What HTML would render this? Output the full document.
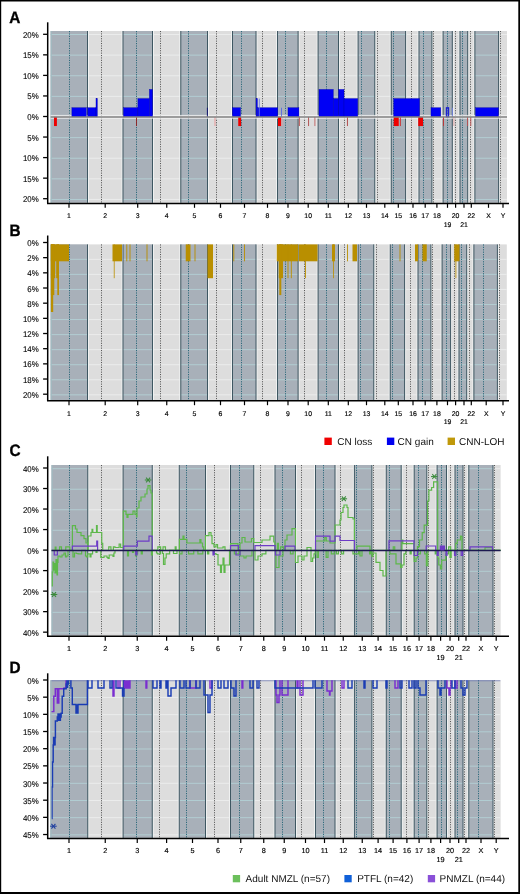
<!DOCTYPE html>
<html><head><meta charset="utf-8"><style>
html,body{margin:0;padding:0;background:#fff;}
body{width:520px;height:894px;overflow:hidden;font-family:"Liberation Sans", sans-serif;}
svg{display:block;will-change:transform;text-rendering:geometricPrecision;}
</style></head><body>
<svg width="520" height="894" viewBox="0 0 520 894" font-family='"Liberation Sans", sans-serif'>
<rect x="0" y="0" width="520" height="894" fill="#fff"/>
<text transform="translate(9.3,22.8) scale(0.93,1)" x="0" y="0" font-size="16.5" font-weight="bold" fill="#000" stroke="#000" stroke-width="0.35">A</text>
<rect x="50.6" y="31.0" width="456.40" height="171.80" fill="#dddddd"/>
<rect x="50.6" y="34.00" width="456.40" height="1.0" fill="#ebecec"/>
<rect x="50.6" y="54.62" width="456.40" height="1.0" fill="#ebecec"/>
<rect x="50.6" y="75.24" width="456.40" height="1.0" fill="#ebecec"/>
<rect x="50.6" y="95.86" width="456.40" height="1.0" fill="#ebecec"/>
<rect x="50.6" y="137.10" width="456.40" height="1.0" fill="#ebecec"/>
<rect x="50.6" y="157.72" width="456.40" height="1.0" fill="#ebecec"/>
<rect x="50.6" y="178.34" width="456.40" height="1.0" fill="#ebecec"/>
<rect x="50.6" y="198.96" width="456.40" height="1.0" fill="#ebecec"/>
<rect x="50.60" y="31.0" width="36.90" height="171.80" fill="#a8b0b9"/>
<rect x="50.60" y="34.00" width="36.90" height="1.0" fill="#b2cdd2"/>
<rect x="50.60" y="54.62" width="36.90" height="1.0" fill="#b2cdd2"/>
<rect x="50.60" y="75.24" width="36.90" height="1.0" fill="#b2cdd2"/>
<rect x="50.60" y="95.86" width="36.90" height="1.0" fill="#b2cdd2"/>
<rect x="50.60" y="137.10" width="36.90" height="1.0" fill="#b2cdd2"/>
<rect x="50.60" y="157.72" width="36.90" height="1.0" fill="#b2cdd2"/>
<rect x="50.60" y="178.34" width="36.90" height="1.0" fill="#b2cdd2"/>
<rect x="50.60" y="198.96" width="36.90" height="1.0" fill="#b2cdd2"/>
<rect x="123.00" y="31.0" width="29.50" height="171.80" fill="#a8b0b9"/>
<rect x="123.00" y="34.00" width="29.50" height="1.0" fill="#b2cdd2"/>
<rect x="123.00" y="54.62" width="29.50" height="1.0" fill="#b2cdd2"/>
<rect x="123.00" y="75.24" width="29.50" height="1.0" fill="#b2cdd2"/>
<rect x="123.00" y="95.86" width="29.50" height="1.0" fill="#b2cdd2"/>
<rect x="123.00" y="137.10" width="29.50" height="1.0" fill="#b2cdd2"/>
<rect x="123.00" y="157.72" width="29.50" height="1.0" fill="#b2cdd2"/>
<rect x="123.00" y="178.34" width="29.50" height="1.0" fill="#b2cdd2"/>
<rect x="123.00" y="198.96" width="29.50" height="1.0" fill="#b2cdd2"/>
<rect x="180.80" y="31.0" width="26.70" height="171.80" fill="#a8b0b9"/>
<rect x="180.80" y="34.00" width="26.70" height="1.0" fill="#b2cdd2"/>
<rect x="180.80" y="54.62" width="26.70" height="1.0" fill="#b2cdd2"/>
<rect x="180.80" y="75.24" width="26.70" height="1.0" fill="#b2cdd2"/>
<rect x="180.80" y="95.86" width="26.70" height="1.0" fill="#b2cdd2"/>
<rect x="180.80" y="137.10" width="26.70" height="1.0" fill="#b2cdd2"/>
<rect x="180.80" y="157.72" width="26.70" height="1.0" fill="#b2cdd2"/>
<rect x="180.80" y="178.34" width="26.70" height="1.0" fill="#b2cdd2"/>
<rect x="180.80" y="198.96" width="26.70" height="1.0" fill="#b2cdd2"/>
<rect x="232.50" y="31.0" width="23.50" height="171.80" fill="#a8b0b9"/>
<rect x="232.50" y="34.00" width="23.50" height="1.0" fill="#b2cdd2"/>
<rect x="232.50" y="54.62" width="23.50" height="1.0" fill="#b2cdd2"/>
<rect x="232.50" y="75.24" width="23.50" height="1.0" fill="#b2cdd2"/>
<rect x="232.50" y="95.86" width="23.50" height="1.0" fill="#b2cdd2"/>
<rect x="232.50" y="137.10" width="23.50" height="1.0" fill="#b2cdd2"/>
<rect x="232.50" y="157.72" width="23.50" height="1.0" fill="#b2cdd2"/>
<rect x="232.50" y="178.34" width="23.50" height="1.0" fill="#b2cdd2"/>
<rect x="232.50" y="198.96" width="23.50" height="1.0" fill="#b2cdd2"/>
<rect x="277.50" y="31.0" width="20.60" height="171.80" fill="#a8b0b9"/>
<rect x="277.50" y="34.00" width="20.60" height="1.0" fill="#b2cdd2"/>
<rect x="277.50" y="54.62" width="20.60" height="1.0" fill="#b2cdd2"/>
<rect x="277.50" y="75.24" width="20.60" height="1.0" fill="#b2cdd2"/>
<rect x="277.50" y="95.86" width="20.60" height="1.0" fill="#b2cdd2"/>
<rect x="277.50" y="137.10" width="20.60" height="1.0" fill="#b2cdd2"/>
<rect x="277.50" y="157.72" width="20.60" height="1.0" fill="#b2cdd2"/>
<rect x="277.50" y="178.34" width="20.60" height="1.0" fill="#b2cdd2"/>
<rect x="277.50" y="198.96" width="20.60" height="1.0" fill="#b2cdd2"/>
<rect x="318.10" y="31.0" width="20.40" height="171.80" fill="#a8b0b9"/>
<rect x="318.10" y="34.00" width="20.40" height="1.0" fill="#b2cdd2"/>
<rect x="318.10" y="54.62" width="20.40" height="1.0" fill="#b2cdd2"/>
<rect x="318.10" y="75.24" width="20.40" height="1.0" fill="#b2cdd2"/>
<rect x="318.10" y="95.86" width="20.40" height="1.0" fill="#b2cdd2"/>
<rect x="318.10" y="137.10" width="20.40" height="1.0" fill="#b2cdd2"/>
<rect x="318.10" y="157.72" width="20.40" height="1.0" fill="#b2cdd2"/>
<rect x="318.10" y="178.34" width="20.40" height="1.0" fill="#b2cdd2"/>
<rect x="318.10" y="198.96" width="20.40" height="1.0" fill="#b2cdd2"/>
<rect x="358.10" y="31.0" width="16.65" height="171.80" fill="#a8b0b9"/>
<rect x="358.10" y="34.00" width="16.65" height="1.0" fill="#b2cdd2"/>
<rect x="358.10" y="54.62" width="16.65" height="1.0" fill="#b2cdd2"/>
<rect x="358.10" y="75.24" width="16.65" height="1.0" fill="#b2cdd2"/>
<rect x="358.10" y="95.86" width="16.65" height="1.0" fill="#b2cdd2"/>
<rect x="358.10" y="137.10" width="16.65" height="1.0" fill="#b2cdd2"/>
<rect x="358.10" y="157.72" width="16.65" height="1.0" fill="#b2cdd2"/>
<rect x="358.10" y="178.34" width="16.65" height="1.0" fill="#b2cdd2"/>
<rect x="358.10" y="198.96" width="16.65" height="1.0" fill="#b2cdd2"/>
<rect x="391.25" y="31.0" width="14.35" height="171.80" fill="#a8b0b9"/>
<rect x="391.25" y="34.00" width="14.35" height="1.0" fill="#b2cdd2"/>
<rect x="391.25" y="54.62" width="14.35" height="1.0" fill="#b2cdd2"/>
<rect x="391.25" y="75.24" width="14.35" height="1.0" fill="#b2cdd2"/>
<rect x="391.25" y="95.86" width="14.35" height="1.0" fill="#b2cdd2"/>
<rect x="391.25" y="137.10" width="14.35" height="1.0" fill="#b2cdd2"/>
<rect x="391.25" y="157.72" width="14.35" height="1.0" fill="#b2cdd2"/>
<rect x="391.25" y="178.34" width="14.35" height="1.0" fill="#b2cdd2"/>
<rect x="391.25" y="198.96" width="14.35" height="1.0" fill="#b2cdd2"/>
<rect x="419.00" y="31.0" width="12.90" height="171.80" fill="#a8b0b9"/>
<rect x="419.00" y="34.00" width="12.90" height="1.0" fill="#b2cdd2"/>
<rect x="419.00" y="54.62" width="12.90" height="1.0" fill="#b2cdd2"/>
<rect x="419.00" y="75.24" width="12.90" height="1.0" fill="#b2cdd2"/>
<rect x="419.00" y="95.86" width="12.90" height="1.0" fill="#b2cdd2"/>
<rect x="419.00" y="137.10" width="12.90" height="1.0" fill="#b2cdd2"/>
<rect x="419.00" y="157.72" width="12.90" height="1.0" fill="#b2cdd2"/>
<rect x="419.00" y="178.34" width="12.90" height="1.0" fill="#b2cdd2"/>
<rect x="419.00" y="198.96" width="12.90" height="1.0" fill="#b2cdd2"/>
<rect x="443.10" y="31.0" width="9.20" height="171.80" fill="#a8b0b9"/>
<rect x="443.10" y="34.00" width="9.20" height="1.0" fill="#b2cdd2"/>
<rect x="443.10" y="54.62" width="9.20" height="1.0" fill="#b2cdd2"/>
<rect x="443.10" y="75.24" width="9.20" height="1.0" fill="#b2cdd2"/>
<rect x="443.10" y="95.86" width="9.20" height="1.0" fill="#b2cdd2"/>
<rect x="443.10" y="137.10" width="9.20" height="1.0" fill="#b2cdd2"/>
<rect x="443.10" y="157.72" width="9.20" height="1.0" fill="#b2cdd2"/>
<rect x="443.10" y="178.34" width="9.20" height="1.0" fill="#b2cdd2"/>
<rect x="443.10" y="198.96" width="9.20" height="1.0" fill="#b2cdd2"/>
<rect x="460.00" y="31.0" width="7.70" height="171.80" fill="#a8b0b9"/>
<rect x="460.00" y="34.00" width="7.70" height="1.0" fill="#b2cdd2"/>
<rect x="460.00" y="54.62" width="7.70" height="1.0" fill="#b2cdd2"/>
<rect x="460.00" y="75.24" width="7.70" height="1.0" fill="#b2cdd2"/>
<rect x="460.00" y="95.86" width="7.70" height="1.0" fill="#b2cdd2"/>
<rect x="460.00" y="137.10" width="7.70" height="1.0" fill="#b2cdd2"/>
<rect x="460.00" y="157.72" width="7.70" height="1.0" fill="#b2cdd2"/>
<rect x="460.00" y="178.34" width="7.70" height="1.0" fill="#b2cdd2"/>
<rect x="460.00" y="198.96" width="7.70" height="1.0" fill="#b2cdd2"/>
<rect x="474.90" y="31.0" width="23.70" height="171.80" fill="#a8b0b9"/>
<rect x="474.90" y="34.00" width="23.70" height="1.0" fill="#b2cdd2"/>
<rect x="474.90" y="54.62" width="23.70" height="1.0" fill="#b2cdd2"/>
<rect x="474.90" y="75.24" width="23.70" height="1.0" fill="#b2cdd2"/>
<rect x="474.90" y="95.86" width="23.70" height="1.0" fill="#b2cdd2"/>
<rect x="474.90" y="137.10" width="23.70" height="1.0" fill="#b2cdd2"/>
<rect x="474.90" y="157.72" width="23.70" height="1.0" fill="#b2cdd2"/>
<rect x="474.90" y="178.34" width="23.70" height="1.0" fill="#b2cdd2"/>
<rect x="474.90" y="198.96" width="23.70" height="1.0" fill="#b2cdd2"/>
<rect x="88.00" y="31.0" width="1" height="171.80" fill="#f0f1f1"/>
<rect x="121.50" y="31.0" width="1" height="171.80" fill="#f0f1f1"/>
<rect x="153.00" y="31.0" width="1" height="171.80" fill="#f0f1f1"/>
<rect x="179.30" y="31.0" width="1" height="171.80" fill="#f0f1f1"/>
<rect x="208.00" y="31.0" width="1" height="171.80" fill="#f0f1f1"/>
<rect x="231.00" y="31.0" width="1" height="171.80" fill="#f0f1f1"/>
<rect x="256.50" y="31.0" width="1" height="171.80" fill="#f0f1f1"/>
<rect x="276.00" y="31.0" width="1" height="171.80" fill="#f0f1f1"/>
<rect x="298.60" y="31.0" width="1" height="171.80" fill="#f0f1f1"/>
<rect x="316.60" y="31.0" width="1" height="171.80" fill="#f0f1f1"/>
<rect x="339.00" y="31.0" width="1" height="171.80" fill="#f0f1f1"/>
<rect x="356.60" y="31.0" width="1" height="171.80" fill="#f0f1f1"/>
<rect x="375.25" y="31.0" width="1" height="171.80" fill="#f0f1f1"/>
<rect x="389.75" y="31.0" width="1" height="171.80" fill="#f0f1f1"/>
<rect x="406.10" y="31.0" width="1" height="171.80" fill="#f0f1f1"/>
<rect x="417.50" y="31.0" width="1" height="171.80" fill="#f0f1f1"/>
<rect x="432.40" y="31.0" width="1" height="171.80" fill="#f0f1f1"/>
<rect x="441.60" y="31.0" width="1" height="171.80" fill="#f0f1f1"/>
<rect x="452.80" y="31.0" width="1" height="171.80" fill="#f0f1f1"/>
<rect x="458.50" y="31.0" width="1" height="171.80" fill="#f0f1f1"/>
<rect x="468.20" y="31.0" width="1" height="171.80" fill="#f0f1f1"/>
<rect x="473.40" y="31.0" width="1" height="171.80" fill="#f0f1f1"/>
<rect x="499.10" y="31.0" width="1" height="171.80" fill="#f0f1f1"/>
<line x1="69.50" y1="31.0" x2="69.50" y2="202.8" stroke="#2e6a7c" stroke-width="1.0" stroke-dasharray="1.2 1.2"/>
<line x1="101.50" y1="31.0" x2="101.50" y2="202.8" stroke="#585858" stroke-width="1.0" stroke-dasharray="1.1 1.3"/>
<line x1="136.50" y1="31.0" x2="136.50" y2="202.8" stroke="#2e6a7c" stroke-width="1.0" stroke-dasharray="1.2 1.2"/>
<line x1="160.50" y1="31.0" x2="160.50" y2="202.8" stroke="#585858" stroke-width="1.0" stroke-dasharray="1.1 1.3"/>
<line x1="188.50" y1="31.0" x2="188.50" y2="202.8" stroke="#2e6a7c" stroke-width="1.0" stroke-dasharray="1.2 1.2"/>
<line x1="216.50" y1="31.0" x2="216.50" y2="202.8" stroke="#585858" stroke-width="1.0" stroke-dasharray="1.1 1.3"/>
<line x1="241.50" y1="31.0" x2="241.50" y2="202.8" stroke="#2e6a7c" stroke-width="1.0" stroke-dasharray="1.2 1.2"/>
<line x1="262.50" y1="31.0" x2="262.50" y2="202.8" stroke="#585858" stroke-width="1.0" stroke-dasharray="1.1 1.3"/>
<line x1="285.50" y1="31.0" x2="285.50" y2="202.8" stroke="#2e6a7c" stroke-width="1.0" stroke-dasharray="1.2 1.2"/>
<line x1="304.50" y1="31.0" x2="304.50" y2="202.8" stroke="#585858" stroke-width="1.0" stroke-dasharray="1.1 1.3"/>
<line x1="326.50" y1="31.0" x2="326.50" y2="202.8" stroke="#2e6a7c" stroke-width="1.0" stroke-dasharray="1.2 1.2"/>
<line x1="344.50" y1="31.0" x2="344.50" y2="202.8" stroke="#585858" stroke-width="1.0" stroke-dasharray="1.1 1.3"/>
<line x1="361.50" y1="31.0" x2="361.50" y2="202.8" stroke="#2e6a7c" stroke-width="1.0" stroke-dasharray="1.2 1.2"/>
<line x1="377.50" y1="31.0" x2="377.50" y2="202.8" stroke="#585858" stroke-width="1.0" stroke-dasharray="1.1 1.3"/>
<line x1="393.50" y1="31.0" x2="393.50" y2="202.8" stroke="#2e6a7c" stroke-width="1.0" stroke-dasharray="1.2 1.2"/>
<line x1="411.50" y1="31.0" x2="411.50" y2="202.8" stroke="#585858" stroke-width="1.0" stroke-dasharray="1.1 1.3"/>
<line x1="423.50" y1="31.0" x2="423.50" y2="202.8" stroke="#2e6a7c" stroke-width="1.0" stroke-dasharray="1.2 1.2"/>
<line x1="433.50" y1="31.0" x2="433.50" y2="202.8" stroke="#585858" stroke-width="1.0" stroke-dasharray="1.1 1.3"/>
<line x1="447.50" y1="31.0" x2="447.50" y2="202.8" stroke="#2e6a7c" stroke-width="1.0" stroke-dasharray="1.2 1.2"/>
<line x1="455.50" y1="31.0" x2="455.50" y2="202.8" stroke="#585858" stroke-width="1.0" stroke-dasharray="1.1 1.3"/>
<line x1="462.50" y1="31.0" x2="462.50" y2="202.8" stroke="#2e6a7c" stroke-width="1.0" stroke-dasharray="1.2 1.2"/>
<line x1="470.50" y1="31.0" x2="470.50" y2="202.8" stroke="#585858" stroke-width="1.0" stroke-dasharray="1.1 1.3"/>
<line x1="500.50" y1="31.0" x2="500.50" y2="202.8" stroke="#585858" stroke-width="1.0" stroke-dasharray="1.1 1.3"/>
<line x1="87.50" y1="31.0" x2="87.50" y2="202.8" stroke="#3e5762" stroke-width="1"/>
<line x1="123.00" y1="31.0" x2="123.00" y2="202.8" stroke="#3e5762" stroke-width="1"/>
<line x1="152.50" y1="31.0" x2="152.50" y2="202.8" stroke="#3e5762" stroke-width="1"/>
<line x1="180.80" y1="31.0" x2="180.80" y2="202.8" stroke="#3e5762" stroke-width="1"/>
<line x1="207.50" y1="31.0" x2="207.50" y2="202.8" stroke="#3e5762" stroke-width="1"/>
<line x1="232.50" y1="31.0" x2="232.50" y2="202.8" stroke="#3e5762" stroke-width="1"/>
<line x1="256.00" y1="31.0" x2="256.00" y2="202.8" stroke="#3e5762" stroke-width="1"/>
<line x1="277.50" y1="31.0" x2="277.50" y2="202.8" stroke="#3e5762" stroke-width="1"/>
<line x1="298.10" y1="31.0" x2="298.10" y2="202.8" stroke="#3e5762" stroke-width="1"/>
<line x1="318.10" y1="31.0" x2="318.10" y2="202.8" stroke="#3e5762" stroke-width="1"/>
<line x1="338.50" y1="31.0" x2="338.50" y2="202.8" stroke="#3e5762" stroke-width="1"/>
<line x1="358.10" y1="31.0" x2="358.10" y2="202.8" stroke="#3e5762" stroke-width="1"/>
<line x1="374.75" y1="31.0" x2="374.75" y2="202.8" stroke="#3e5762" stroke-width="1"/>
<line x1="391.25" y1="31.0" x2="391.25" y2="202.8" stroke="#3e5762" stroke-width="1"/>
<line x1="405.60" y1="31.0" x2="405.60" y2="202.8" stroke="#3e5762" stroke-width="1"/>
<line x1="419.00" y1="31.0" x2="419.00" y2="202.8" stroke="#3e5762" stroke-width="1"/>
<line x1="431.90" y1="31.0" x2="431.90" y2="202.8" stroke="#3e5762" stroke-width="1"/>
<line x1="443.10" y1="31.0" x2="443.10" y2="202.8" stroke="#3e5762" stroke-width="1"/>
<line x1="452.30" y1="31.0" x2="452.30" y2="202.8" stroke="#3e5762" stroke-width="1"/>
<line x1="460.00" y1="31.0" x2="460.00" y2="202.8" stroke="#3e5762" stroke-width="1"/>
<line x1="467.70" y1="31.0" x2="467.70" y2="202.8" stroke="#3e5762" stroke-width="1"/>
<line x1="474.90" y1="31.0" x2="474.90" y2="202.8" stroke="#3e5762" stroke-width="1"/>
<line x1="498.60" y1="31.0" x2="498.60" y2="202.8" stroke="#3e5762" stroke-width="1"/>
<rect x="50.60" y="31.0" width="1.3" height="171.80" fill="#9fbcc2" opacity="0.8"/>
<rect x="50.6" y="114.9" width="456.40" height="3.9" fill="#f6f6f6" opacity="0.75"/>
<rect x="71.9" y="107.75" width="14.35" height="9.15" fill="#0000f5" stroke="#0000b0" stroke-width="0.4"/>
<rect x="87.75" y="107.75" width="8.25" height="9.15" fill="#0000f5" stroke="#0000b0" stroke-width="0.4"/>
<rect x="96.0" y="98.60" width="1.30" height="18.30" fill="#0000f5" stroke="#0000b0" stroke-width="0.4"/>
<rect x="123.5" y="107.75" width="14.40" height="9.15" fill="#0000f5" stroke="#0000b0" stroke-width="0.4"/>
<rect x="137.9" y="98.60" width="11.50" height="18.30" fill="#0000f5" stroke="#0000b0" stroke-width="0.4"/>
<rect x="149.4" y="89.45" width="3.10" height="27.45" fill="#0000f5" stroke="#0000b0" stroke-width="0.4"/>
<rect x="232.4" y="107.75" width="8.10" height="9.15" fill="#0000f5" stroke="#0000b0" stroke-width="0.4"/>
<rect x="256.1" y="98.60" width="1.30" height="18.30" fill="#0000f5" stroke="#0000b0" stroke-width="0.4"/>
<rect x="257.4" y="107.75" width="20.35" height="9.15" fill="#0000f5" stroke="#0000b0" stroke-width="0.4"/>
<rect x="288.0" y="107.75" width="10.90" height="9.15" fill="#0000f5" stroke="#0000b0" stroke-width="0.4"/>
<rect x="319.0" y="89.45" width="14.25" height="27.45" fill="#0000f5" stroke="#0000b0" stroke-width="0.4"/>
<rect x="333.25" y="98.60" width="5.35" height="18.30" fill="#0000f5" stroke="#0000b0" stroke-width="0.4"/>
<rect x="338.6" y="89.45" width="5.40" height="27.45" fill="#0000f5" stroke="#0000b0" stroke-width="0.4"/>
<rect x="344.0" y="98.60" width="13.75" height="18.30" fill="#0000f5" stroke="#0000b0" stroke-width="0.4"/>
<rect x="393.75" y="98.60" width="25.75" height="18.30" fill="#0000f5" stroke="#0000b0" stroke-width="0.4"/>
<rect x="431.0" y="107.75" width="9.75" height="9.15" fill="#0000f5" stroke="#0000b0" stroke-width="0.4"/>
<rect x="475.5" y="107.75" width="23.00" height="9.15" fill="#0000f5" stroke="#0000b0" stroke-width="0.4"/>
<rect x="446.3" y="107.75" width="2.4" height="9.15" fill="#3a48c8" fill-opacity="0.55" stroke="#0000d8" stroke-width="0.9"/>
<rect x="206.90" y="107.75" width="0.9" height="9.15" fill="#101070"/>
<rect x="258.80" y="98.60" width="0.9" height="18.30" fill="#6a7ae0"/>
<rect x="281.10" y="107.75" width="0.9" height="9.15" fill="#5a6ae0"/>
<rect x="451.90" y="107.75" width="0.9" height="9.15" fill="#7080e0"/>
<rect x="54.0" y="116.90" width="2.90" height="9.15" fill="#ee0000"/>
<rect x="238.25" y="116.90" width="2.85" height="9.15" fill="#ee0000"/>
<rect x="278.0" y="116.90" width="3.10" height="9.15" fill="#ee0000"/>
<rect x="393.75" y="116.90" width="5.00" height="9.15" fill="#ee0000"/>
<rect x="418.25" y="116.90" width="4.75" height="9.15" fill="#ee0000"/>
<rect x="136.05" y="116.90" width="0.9" height="9.15" fill="#902020"/>
<rect x="214.55" y="116.90" width="0.9" height="9.15" fill="#e89090"/>
<rect x="281.55" y="116.90" width="0.9" height="9.15" fill="#e8a0a0"/>
<rect x="298.85" y="116.90" width="0.9" height="9.15" fill="#b04040"/>
<rect x="308.15" y="116.90" width="0.9" height="9.15" fill="#b04848"/>
<rect x="314.45" y="116.90" width="0.9" height="9.15" fill="#c06060"/>
<rect x="346.95" y="116.90" width="0.9" height="9.15" fill="#b04040"/>
<rect x="399.85" y="116.90" width="0.9" height="9.15" fill="#d02020"/>
<rect x="443.05" y="116.90" width="0.9" height="9.15" fill="#c03030"/>
<rect x="453.45" y="116.90" width="0.9" height="9.15" fill="#e0a0a0"/>
<rect x="467.15" y="116.90" width="0.9" height="9.15" fill="#c05050"/>
<rect x="470.35" y="116.90" width="0.9" height="9.15" fill="#c05050"/>
<line x1="50.6" y1="117.0" x2="507.0" y2="117.0" stroke="#808080" stroke-width="1.6"/>
<line x1="47.7" y1="22.3" x2="47.7" y2="203.4" stroke="#000" stroke-width="1.5"/>
<line x1="43.1" y1="34.3" x2="47.7" y2="34.3" stroke="#000" stroke-width="1.3"/>
<text transform="translate(38.7,37.80) scale(0.94,1)" x="0" y="0" font-size="8.4" text-anchor="end" fill="#000" stroke="#000" stroke-width="0.1">20%</text>
<line x1="43.1" y1="54.849999999999994" x2="47.7" y2="54.849999999999994" stroke="#000" stroke-width="1.3"/>
<text transform="translate(38.7,58.35) scale(0.94,1)" x="0" y="0" font-size="8.4" text-anchor="end" fill="#000" stroke="#000" stroke-width="0.1">15%</text>
<line x1="43.1" y1="75.4" x2="47.7" y2="75.4" stroke="#000" stroke-width="1.3"/>
<text transform="translate(38.7,78.90) scale(0.94,1)" x="0" y="0" font-size="8.4" text-anchor="end" fill="#000" stroke="#000" stroke-width="0.1">10%</text>
<line x1="43.1" y1="95.95" x2="47.7" y2="95.95" stroke="#000" stroke-width="1.3"/>
<text transform="translate(38.7,99.45) scale(0.94,1)" x="0" y="0" font-size="8.4" text-anchor="end" fill="#000" stroke="#000" stroke-width="0.1">5%</text>
<line x1="43.1" y1="116.5" x2="47.7" y2="116.5" stroke="#000" stroke-width="1.3"/>
<text transform="translate(38.7,120.00) scale(0.94,1)" x="0" y="0" font-size="8.4" text-anchor="end" fill="#000" stroke="#000" stroke-width="0.1">0%</text>
<line x1="43.1" y1="137.05" x2="47.7" y2="137.05" stroke="#000" stroke-width="1.3"/>
<text transform="translate(38.7,140.55) scale(0.94,1)" x="0" y="0" font-size="8.4" text-anchor="end" fill="#000" stroke="#000" stroke-width="0.1">5%</text>
<line x1="43.1" y1="157.60000000000002" x2="47.7" y2="157.60000000000002" stroke="#000" stroke-width="1.3"/>
<text transform="translate(38.7,161.10) scale(0.94,1)" x="0" y="0" font-size="8.4" text-anchor="end" fill="#000" stroke="#000" stroke-width="0.1">10%</text>
<line x1="43.1" y1="178.14999999999998" x2="47.7" y2="178.14999999999998" stroke="#000" stroke-width="1.3"/>
<text transform="translate(38.7,181.65) scale(0.94,1)" x="0" y="0" font-size="8.4" text-anchor="end" fill="#000" stroke="#000" stroke-width="0.1">15%</text>
<line x1="43.1" y1="198.7" x2="47.7" y2="198.7" stroke="#000" stroke-width="1.3"/>
<text transform="translate(38.7,202.20) scale(0.94,1)" x="0" y="0" font-size="8.4" text-anchor="end" fill="#000" stroke="#000" stroke-width="0.1">20%</text>
<line x1="47.0" y1="203.4" x2="509.0" y2="203.4" stroke="#000" stroke-width="1.5"/>
<line x1="69.00" y1="203.4" x2="69.00" y2="207.80" stroke="#000" stroke-width="1.2"/>
<text x="69.00" y="217.5" font-size="6.9" text-anchor="middle" fill="#000" stroke="#000" stroke-width="0.15">1</text>
<line x1="105.20" y1="203.4" x2="105.20" y2="207.80" stroke="#000" stroke-width="1.2"/>
<text x="105.20" y="217.5" font-size="6.9" text-anchor="middle" fill="#000" stroke="#000" stroke-width="0.15">2</text>
<line x1="137.70" y1="203.4" x2="137.70" y2="207.80" stroke="#000" stroke-width="1.2"/>
<text x="137.70" y="217.5" font-size="6.9" text-anchor="middle" fill="#000" stroke="#000" stroke-width="0.15">3</text>
<line x1="166.75" y1="203.4" x2="166.75" y2="207.80" stroke="#000" stroke-width="1.2"/>
<text x="166.75" y="217.5" font-size="6.9" text-anchor="middle" fill="#000" stroke="#000" stroke-width="0.15">4</text>
<line x1="194.50" y1="203.4" x2="194.50" y2="207.80" stroke="#000" stroke-width="1.2"/>
<text x="194.50" y="217.5" font-size="6.9" text-anchor="middle" fill="#000" stroke="#000" stroke-width="0.15">5</text>
<line x1="220.50" y1="203.4" x2="220.50" y2="207.80" stroke="#000" stroke-width="1.2"/>
<text x="220.50" y="217.5" font-size="6.9" text-anchor="middle" fill="#000" stroke="#000" stroke-width="0.15">6</text>
<line x1="244.50" y1="203.4" x2="244.50" y2="207.80" stroke="#000" stroke-width="1.2"/>
<text x="244.50" y="217.5" font-size="6.9" text-anchor="middle" fill="#000" stroke="#000" stroke-width="0.15">7</text>
<line x1="267.50" y1="203.4" x2="267.50" y2="207.80" stroke="#000" stroke-width="1.2"/>
<text x="267.50" y="217.5" font-size="6.9" text-anchor="middle" fill="#000" stroke="#000" stroke-width="0.15">8</text>
<line x1="288.00" y1="203.4" x2="288.00" y2="207.80" stroke="#000" stroke-width="1.2"/>
<text x="288.00" y="217.5" font-size="6.9" text-anchor="middle" fill="#000" stroke="#000" stroke-width="0.15">9</text>
<line x1="308.20" y1="203.4" x2="308.20" y2="207.80" stroke="#000" stroke-width="1.2"/>
<text x="308.20" y="217.5" font-size="6.9" text-anchor="middle" fill="#000" stroke="#000" stroke-width="0.15">10</text>
<line x1="328.30" y1="203.4" x2="328.30" y2="207.80" stroke="#000" stroke-width="1.2"/>
<text x="328.30" y="217.5" font-size="6.9" text-anchor="middle" fill="#000" stroke="#000" stroke-width="0.15">11</text>
<line x1="348.30" y1="203.4" x2="348.30" y2="207.80" stroke="#000" stroke-width="1.2"/>
<text x="348.30" y="217.5" font-size="6.9" text-anchor="middle" fill="#000" stroke="#000" stroke-width="0.15">12</text>
<line x1="366.50" y1="203.4" x2="366.50" y2="207.80" stroke="#000" stroke-width="1.2"/>
<text x="366.50" y="217.5" font-size="6.9" text-anchor="middle" fill="#000" stroke="#000" stroke-width="0.15">13</text>
<line x1="384.80" y1="203.4" x2="384.80" y2="207.80" stroke="#000" stroke-width="1.2"/>
<text x="384.80" y="217.5" font-size="6.9" text-anchor="middle" fill="#000" stroke="#000" stroke-width="0.15">14</text>
<line x1="398.30" y1="203.4" x2="398.30" y2="207.80" stroke="#000" stroke-width="1.2"/>
<text x="398.30" y="217.5" font-size="6.9" text-anchor="middle" fill="#000" stroke="#000" stroke-width="0.15">15</text>
<line x1="413.00" y1="203.4" x2="413.00" y2="207.80" stroke="#000" stroke-width="1.2"/>
<text x="413.00" y="217.5" font-size="6.9" text-anchor="middle" fill="#000" stroke="#000" stroke-width="0.15">16</text>
<line x1="425.20" y1="203.4" x2="425.20" y2="207.80" stroke="#000" stroke-width="1.2"/>
<text x="425.20" y="217.5" font-size="6.9" text-anchor="middle" fill="#000" stroke="#000" stroke-width="0.15">17</text>
<line x1="436.90" y1="203.4" x2="436.90" y2="207.80" stroke="#000" stroke-width="1.2"/>
<text x="436.90" y="217.5" font-size="6.9" text-anchor="middle" fill="#000" stroke="#000" stroke-width="0.15">18</text>
<line x1="447.50" y1="203.4" x2="447.50" y2="207.80" stroke="#000" stroke-width="1.2"/>
<text x="447.50" y="226.5" font-size="6.9" text-anchor="middle" fill="#000" stroke="#000" stroke-width="0.15">19</text>
<line x1="455.60" y1="203.4" x2="455.60" y2="207.80" stroke="#000" stroke-width="1.2"/>
<text x="455.60" y="217.5" font-size="6.9" text-anchor="middle" fill="#000" stroke="#000" stroke-width="0.15">20</text>
<line x1="464.00" y1="203.4" x2="464.00" y2="207.80" stroke="#000" stroke-width="1.2"/>
<text x="464.00" y="226.5" font-size="6.9" text-anchor="middle" fill="#000" stroke="#000" stroke-width="0.15">21</text>
<line x1="471.30" y1="203.4" x2="471.30" y2="207.80" stroke="#000" stroke-width="1.2"/>
<text x="471.30" y="217.5" font-size="6.9" text-anchor="middle" fill="#000" stroke="#000" stroke-width="0.15">22</text>
<line x1="488.50" y1="203.4" x2="488.50" y2="207.80" stroke="#000" stroke-width="1.2"/>
<text x="488.50" y="217.5" font-size="6.9" text-anchor="middle" fill="#000" stroke="#000" stroke-width="0.15">X</text>
<line x1="503.00" y1="203.4" x2="503.00" y2="207.80" stroke="#000" stroke-width="1.2"/>
<text x="503.00" y="217.5" font-size="6.9" text-anchor="middle" fill="#000" stroke="#000" stroke-width="0.15">Y</text>
<text transform="translate(9.5,235.7) scale(0.93,1)" x="0" y="0" font-size="16.5" font-weight="bold" fill="#000" stroke="#000" stroke-width="0.35">B</text>
<rect x="50.6" y="244.4" width="456.20" height="155.80" fill="#dddddd"/>
<rect x="50.6" y="258.80" width="456.20" height="1.0" fill="#ebecec"/>
<rect x="50.6" y="273.86" width="456.20" height="1.0" fill="#ebecec"/>
<rect x="50.6" y="288.92" width="456.20" height="1.0" fill="#ebecec"/>
<rect x="50.6" y="303.98" width="456.20" height="1.0" fill="#ebecec"/>
<rect x="50.6" y="319.04" width="456.20" height="1.0" fill="#ebecec"/>
<rect x="50.6" y="334.10" width="456.20" height="1.0" fill="#ebecec"/>
<rect x="50.6" y="349.16" width="456.20" height="1.0" fill="#ebecec"/>
<rect x="50.6" y="364.22" width="456.20" height="1.0" fill="#ebecec"/>
<rect x="50.6" y="379.28" width="456.20" height="1.0" fill="#ebecec"/>
<rect x="50.6" y="394.34" width="456.20" height="1.0" fill="#ebecec"/>
<rect x="50.60" y="244.4" width="36.90" height="155.80" fill="#a8b0b9"/>
<rect x="50.60" y="258.80" width="36.90" height="1.0" fill="#b2cdd2"/>
<rect x="50.60" y="273.86" width="36.90" height="1.0" fill="#b2cdd2"/>
<rect x="50.60" y="288.92" width="36.90" height="1.0" fill="#b2cdd2"/>
<rect x="50.60" y="303.98" width="36.90" height="1.0" fill="#b2cdd2"/>
<rect x="50.60" y="319.04" width="36.90" height="1.0" fill="#b2cdd2"/>
<rect x="50.60" y="334.10" width="36.90" height="1.0" fill="#b2cdd2"/>
<rect x="50.60" y="349.16" width="36.90" height="1.0" fill="#b2cdd2"/>
<rect x="50.60" y="364.22" width="36.90" height="1.0" fill="#b2cdd2"/>
<rect x="50.60" y="379.28" width="36.90" height="1.0" fill="#b2cdd2"/>
<rect x="50.60" y="394.34" width="36.90" height="1.0" fill="#b2cdd2"/>
<rect x="123.00" y="244.4" width="29.50" height="155.80" fill="#a8b0b9"/>
<rect x="123.00" y="258.80" width="29.50" height="1.0" fill="#b2cdd2"/>
<rect x="123.00" y="273.86" width="29.50" height="1.0" fill="#b2cdd2"/>
<rect x="123.00" y="288.92" width="29.50" height="1.0" fill="#b2cdd2"/>
<rect x="123.00" y="303.98" width="29.50" height="1.0" fill="#b2cdd2"/>
<rect x="123.00" y="319.04" width="29.50" height="1.0" fill="#b2cdd2"/>
<rect x="123.00" y="334.10" width="29.50" height="1.0" fill="#b2cdd2"/>
<rect x="123.00" y="349.16" width="29.50" height="1.0" fill="#b2cdd2"/>
<rect x="123.00" y="364.22" width="29.50" height="1.0" fill="#b2cdd2"/>
<rect x="123.00" y="379.28" width="29.50" height="1.0" fill="#b2cdd2"/>
<rect x="123.00" y="394.34" width="29.50" height="1.0" fill="#b2cdd2"/>
<rect x="180.80" y="244.4" width="26.70" height="155.80" fill="#a8b0b9"/>
<rect x="180.80" y="258.80" width="26.70" height="1.0" fill="#b2cdd2"/>
<rect x="180.80" y="273.86" width="26.70" height="1.0" fill="#b2cdd2"/>
<rect x="180.80" y="288.92" width="26.70" height="1.0" fill="#b2cdd2"/>
<rect x="180.80" y="303.98" width="26.70" height="1.0" fill="#b2cdd2"/>
<rect x="180.80" y="319.04" width="26.70" height="1.0" fill="#b2cdd2"/>
<rect x="180.80" y="334.10" width="26.70" height="1.0" fill="#b2cdd2"/>
<rect x="180.80" y="349.16" width="26.70" height="1.0" fill="#b2cdd2"/>
<rect x="180.80" y="364.22" width="26.70" height="1.0" fill="#b2cdd2"/>
<rect x="180.80" y="379.28" width="26.70" height="1.0" fill="#b2cdd2"/>
<rect x="180.80" y="394.34" width="26.70" height="1.0" fill="#b2cdd2"/>
<rect x="232.50" y="244.4" width="23.50" height="155.80" fill="#a8b0b9"/>
<rect x="232.50" y="258.80" width="23.50" height="1.0" fill="#b2cdd2"/>
<rect x="232.50" y="273.86" width="23.50" height="1.0" fill="#b2cdd2"/>
<rect x="232.50" y="288.92" width="23.50" height="1.0" fill="#b2cdd2"/>
<rect x="232.50" y="303.98" width="23.50" height="1.0" fill="#b2cdd2"/>
<rect x="232.50" y="319.04" width="23.50" height="1.0" fill="#b2cdd2"/>
<rect x="232.50" y="334.10" width="23.50" height="1.0" fill="#b2cdd2"/>
<rect x="232.50" y="349.16" width="23.50" height="1.0" fill="#b2cdd2"/>
<rect x="232.50" y="364.22" width="23.50" height="1.0" fill="#b2cdd2"/>
<rect x="232.50" y="379.28" width="23.50" height="1.0" fill="#b2cdd2"/>
<rect x="232.50" y="394.34" width="23.50" height="1.0" fill="#b2cdd2"/>
<rect x="277.50" y="244.4" width="20.60" height="155.80" fill="#a8b0b9"/>
<rect x="277.50" y="258.80" width="20.60" height="1.0" fill="#b2cdd2"/>
<rect x="277.50" y="273.86" width="20.60" height="1.0" fill="#b2cdd2"/>
<rect x="277.50" y="288.92" width="20.60" height="1.0" fill="#b2cdd2"/>
<rect x="277.50" y="303.98" width="20.60" height="1.0" fill="#b2cdd2"/>
<rect x="277.50" y="319.04" width="20.60" height="1.0" fill="#b2cdd2"/>
<rect x="277.50" y="334.10" width="20.60" height="1.0" fill="#b2cdd2"/>
<rect x="277.50" y="349.16" width="20.60" height="1.0" fill="#b2cdd2"/>
<rect x="277.50" y="364.22" width="20.60" height="1.0" fill="#b2cdd2"/>
<rect x="277.50" y="379.28" width="20.60" height="1.0" fill="#b2cdd2"/>
<rect x="277.50" y="394.34" width="20.60" height="1.0" fill="#b2cdd2"/>
<rect x="318.10" y="244.4" width="20.40" height="155.80" fill="#a8b0b9"/>
<rect x="318.10" y="258.80" width="20.40" height="1.0" fill="#b2cdd2"/>
<rect x="318.10" y="273.86" width="20.40" height="1.0" fill="#b2cdd2"/>
<rect x="318.10" y="288.92" width="20.40" height="1.0" fill="#b2cdd2"/>
<rect x="318.10" y="303.98" width="20.40" height="1.0" fill="#b2cdd2"/>
<rect x="318.10" y="319.04" width="20.40" height="1.0" fill="#b2cdd2"/>
<rect x="318.10" y="334.10" width="20.40" height="1.0" fill="#b2cdd2"/>
<rect x="318.10" y="349.16" width="20.40" height="1.0" fill="#b2cdd2"/>
<rect x="318.10" y="364.22" width="20.40" height="1.0" fill="#b2cdd2"/>
<rect x="318.10" y="379.28" width="20.40" height="1.0" fill="#b2cdd2"/>
<rect x="318.10" y="394.34" width="20.40" height="1.0" fill="#b2cdd2"/>
<rect x="358.10" y="244.4" width="15.65" height="155.80" fill="#a8b0b9"/>
<rect x="358.10" y="258.80" width="15.65" height="1.0" fill="#b2cdd2"/>
<rect x="358.10" y="273.86" width="15.65" height="1.0" fill="#b2cdd2"/>
<rect x="358.10" y="288.92" width="15.65" height="1.0" fill="#b2cdd2"/>
<rect x="358.10" y="303.98" width="15.65" height="1.0" fill="#b2cdd2"/>
<rect x="358.10" y="319.04" width="15.65" height="1.0" fill="#b2cdd2"/>
<rect x="358.10" y="334.10" width="15.65" height="1.0" fill="#b2cdd2"/>
<rect x="358.10" y="349.16" width="15.65" height="1.0" fill="#b2cdd2"/>
<rect x="358.10" y="364.22" width="15.65" height="1.0" fill="#b2cdd2"/>
<rect x="358.10" y="379.28" width="15.65" height="1.0" fill="#b2cdd2"/>
<rect x="358.10" y="394.34" width="15.65" height="1.0" fill="#b2cdd2"/>
<rect x="390.25" y="244.4" width="14.35" height="155.80" fill="#a8b0b9"/>
<rect x="390.25" y="258.80" width="14.35" height="1.0" fill="#b2cdd2"/>
<rect x="390.25" y="273.86" width="14.35" height="1.0" fill="#b2cdd2"/>
<rect x="390.25" y="288.92" width="14.35" height="1.0" fill="#b2cdd2"/>
<rect x="390.25" y="303.98" width="14.35" height="1.0" fill="#b2cdd2"/>
<rect x="390.25" y="319.04" width="14.35" height="1.0" fill="#b2cdd2"/>
<rect x="390.25" y="334.10" width="14.35" height="1.0" fill="#b2cdd2"/>
<rect x="390.25" y="349.16" width="14.35" height="1.0" fill="#b2cdd2"/>
<rect x="390.25" y="364.22" width="14.35" height="1.0" fill="#b2cdd2"/>
<rect x="390.25" y="379.28" width="14.35" height="1.0" fill="#b2cdd2"/>
<rect x="390.25" y="394.34" width="14.35" height="1.0" fill="#b2cdd2"/>
<rect x="418.00" y="244.4" width="12.90" height="155.80" fill="#a8b0b9"/>
<rect x="418.00" y="258.80" width="12.90" height="1.0" fill="#b2cdd2"/>
<rect x="418.00" y="273.86" width="12.90" height="1.0" fill="#b2cdd2"/>
<rect x="418.00" y="288.92" width="12.90" height="1.0" fill="#b2cdd2"/>
<rect x="418.00" y="303.98" width="12.90" height="1.0" fill="#b2cdd2"/>
<rect x="418.00" y="319.04" width="12.90" height="1.0" fill="#b2cdd2"/>
<rect x="418.00" y="334.10" width="12.90" height="1.0" fill="#b2cdd2"/>
<rect x="418.00" y="349.16" width="12.90" height="1.0" fill="#b2cdd2"/>
<rect x="418.00" y="364.22" width="12.90" height="1.0" fill="#b2cdd2"/>
<rect x="418.00" y="379.28" width="12.90" height="1.0" fill="#b2cdd2"/>
<rect x="418.00" y="394.34" width="12.90" height="1.0" fill="#b2cdd2"/>
<rect x="442.10" y="244.4" width="8.50" height="155.80" fill="#a8b0b9"/>
<rect x="442.10" y="258.80" width="8.50" height="1.0" fill="#b2cdd2"/>
<rect x="442.10" y="273.86" width="8.50" height="1.0" fill="#b2cdd2"/>
<rect x="442.10" y="288.92" width="8.50" height="1.0" fill="#b2cdd2"/>
<rect x="442.10" y="303.98" width="8.50" height="1.0" fill="#b2cdd2"/>
<rect x="442.10" y="319.04" width="8.50" height="1.0" fill="#b2cdd2"/>
<rect x="442.10" y="334.10" width="8.50" height="1.0" fill="#b2cdd2"/>
<rect x="442.10" y="349.16" width="8.50" height="1.0" fill="#b2cdd2"/>
<rect x="442.10" y="364.22" width="8.50" height="1.0" fill="#b2cdd2"/>
<rect x="442.10" y="379.28" width="8.50" height="1.0" fill="#b2cdd2"/>
<rect x="442.10" y="394.34" width="8.50" height="1.0" fill="#b2cdd2"/>
<rect x="459.00" y="244.4" width="7.70" height="155.80" fill="#a8b0b9"/>
<rect x="459.00" y="258.80" width="7.70" height="1.0" fill="#b2cdd2"/>
<rect x="459.00" y="273.86" width="7.70" height="1.0" fill="#b2cdd2"/>
<rect x="459.00" y="288.92" width="7.70" height="1.0" fill="#b2cdd2"/>
<rect x="459.00" y="303.98" width="7.70" height="1.0" fill="#b2cdd2"/>
<rect x="459.00" y="319.04" width="7.70" height="1.0" fill="#b2cdd2"/>
<rect x="459.00" y="334.10" width="7.70" height="1.0" fill="#b2cdd2"/>
<rect x="459.00" y="349.16" width="7.70" height="1.0" fill="#b2cdd2"/>
<rect x="459.00" y="364.22" width="7.70" height="1.0" fill="#b2cdd2"/>
<rect x="459.00" y="379.28" width="7.70" height="1.0" fill="#b2cdd2"/>
<rect x="459.00" y="394.34" width="7.70" height="1.0" fill="#b2cdd2"/>
<rect x="473.90" y="244.4" width="23.50" height="155.80" fill="#a8b0b9"/>
<rect x="473.90" y="258.80" width="23.50" height="1.0" fill="#b2cdd2"/>
<rect x="473.90" y="273.86" width="23.50" height="1.0" fill="#b2cdd2"/>
<rect x="473.90" y="288.92" width="23.50" height="1.0" fill="#b2cdd2"/>
<rect x="473.90" y="303.98" width="23.50" height="1.0" fill="#b2cdd2"/>
<rect x="473.90" y="319.04" width="23.50" height="1.0" fill="#b2cdd2"/>
<rect x="473.90" y="334.10" width="23.50" height="1.0" fill="#b2cdd2"/>
<rect x="473.90" y="349.16" width="23.50" height="1.0" fill="#b2cdd2"/>
<rect x="473.90" y="364.22" width="23.50" height="1.0" fill="#b2cdd2"/>
<rect x="473.90" y="379.28" width="23.50" height="1.0" fill="#b2cdd2"/>
<rect x="473.90" y="394.34" width="23.50" height="1.0" fill="#b2cdd2"/>
<rect x="88.00" y="244.4" width="1" height="155.80" fill="#f0f1f1"/>
<rect x="121.50" y="244.4" width="1" height="155.80" fill="#f0f1f1"/>
<rect x="153.00" y="244.4" width="1" height="155.80" fill="#f0f1f1"/>
<rect x="179.30" y="244.4" width="1" height="155.80" fill="#f0f1f1"/>
<rect x="208.00" y="244.4" width="1" height="155.80" fill="#f0f1f1"/>
<rect x="231.00" y="244.4" width="1" height="155.80" fill="#f0f1f1"/>
<rect x="256.50" y="244.4" width="1" height="155.80" fill="#f0f1f1"/>
<rect x="276.00" y="244.4" width="1" height="155.80" fill="#f0f1f1"/>
<rect x="298.60" y="244.4" width="1" height="155.80" fill="#f0f1f1"/>
<rect x="316.60" y="244.4" width="1" height="155.80" fill="#f0f1f1"/>
<rect x="339.00" y="244.4" width="1" height="155.80" fill="#f0f1f1"/>
<rect x="356.60" y="244.4" width="1" height="155.80" fill="#f0f1f1"/>
<rect x="374.25" y="244.4" width="1" height="155.80" fill="#f0f1f1"/>
<rect x="388.75" y="244.4" width="1" height="155.80" fill="#f0f1f1"/>
<rect x="405.10" y="244.4" width="1" height="155.80" fill="#f0f1f1"/>
<rect x="416.50" y="244.4" width="1" height="155.80" fill="#f0f1f1"/>
<rect x="431.40" y="244.4" width="1" height="155.80" fill="#f0f1f1"/>
<rect x="440.60" y="244.4" width="1" height="155.80" fill="#f0f1f1"/>
<rect x="451.10" y="244.4" width="1" height="155.80" fill="#f0f1f1"/>
<rect x="457.50" y="244.4" width="1" height="155.80" fill="#f0f1f1"/>
<rect x="467.20" y="244.4" width="1" height="155.80" fill="#f0f1f1"/>
<rect x="472.40" y="244.4" width="1" height="155.80" fill="#f0f1f1"/>
<rect x="497.90" y="244.4" width="1" height="155.80" fill="#f0f1f1"/>
<line x1="69.50" y1="244.4" x2="69.50" y2="400.2" stroke="#2e6a7c" stroke-width="1.0" stroke-dasharray="1.2 1.2"/>
<line x1="101.50" y1="244.4" x2="101.50" y2="400.2" stroke="#585858" stroke-width="1.0" stroke-dasharray="1.1 1.3"/>
<line x1="136.50" y1="244.4" x2="136.50" y2="400.2" stroke="#2e6a7c" stroke-width="1.0" stroke-dasharray="1.2 1.2"/>
<line x1="160.50" y1="244.4" x2="160.50" y2="400.2" stroke="#585858" stroke-width="1.0" stroke-dasharray="1.1 1.3"/>
<line x1="188.50" y1="244.4" x2="188.50" y2="400.2" stroke="#2e6a7c" stroke-width="1.0" stroke-dasharray="1.2 1.2"/>
<line x1="216.50" y1="244.4" x2="216.50" y2="400.2" stroke="#585858" stroke-width="1.0" stroke-dasharray="1.1 1.3"/>
<line x1="241.50" y1="244.4" x2="241.50" y2="400.2" stroke="#2e6a7c" stroke-width="1.0" stroke-dasharray="1.2 1.2"/>
<line x1="262.50" y1="244.4" x2="262.50" y2="400.2" stroke="#585858" stroke-width="1.0" stroke-dasharray="1.1 1.3"/>
<line x1="285.50" y1="244.4" x2="285.50" y2="400.2" stroke="#2e6a7c" stroke-width="1.0" stroke-dasharray="1.2 1.2"/>
<line x1="304.50" y1="244.4" x2="304.50" y2="400.2" stroke="#585858" stroke-width="1.0" stroke-dasharray="1.1 1.3"/>
<line x1="326.50" y1="244.4" x2="326.50" y2="400.2" stroke="#2e6a7c" stroke-width="1.0" stroke-dasharray="1.2 1.2"/>
<line x1="344.50" y1="244.4" x2="344.50" y2="400.2" stroke="#585858" stroke-width="1.0" stroke-dasharray="1.1 1.3"/>
<line x1="360.50" y1="244.4" x2="360.50" y2="400.2" stroke="#2e6a7c" stroke-width="1.0" stroke-dasharray="1.2 1.2"/>
<line x1="376.50" y1="244.4" x2="376.50" y2="400.2" stroke="#585858" stroke-width="1.0" stroke-dasharray="1.1 1.3"/>
<line x1="392.50" y1="244.4" x2="392.50" y2="400.2" stroke="#2e6a7c" stroke-width="1.0" stroke-dasharray="1.2 1.2"/>
<line x1="410.50" y1="244.4" x2="410.50" y2="400.2" stroke="#585858" stroke-width="1.0" stroke-dasharray="1.1 1.3"/>
<line x1="422.50" y1="244.4" x2="422.50" y2="400.2" stroke="#2e6a7c" stroke-width="1.0" stroke-dasharray="1.2 1.2"/>
<line x1="432.50" y1="244.4" x2="432.50" y2="400.2" stroke="#585858" stroke-width="1.0" stroke-dasharray="1.1 1.3"/>
<line x1="446.50" y1="244.4" x2="446.50" y2="400.2" stroke="#2e6a7c" stroke-width="1.0" stroke-dasharray="1.2 1.2"/>
<line x1="454.50" y1="244.4" x2="454.50" y2="400.2" stroke="#585858" stroke-width="1.0" stroke-dasharray="1.1 1.3"/>
<line x1="461.50" y1="244.4" x2="461.50" y2="400.2" stroke="#2e6a7c" stroke-width="1.0" stroke-dasharray="1.2 1.2"/>
<line x1="469.50" y1="244.4" x2="469.50" y2="400.2" stroke="#585858" stroke-width="1.0" stroke-dasharray="1.1 1.3"/>
<line x1="483.50" y1="244.4" x2="483.50" y2="400.2" stroke="#2e6a7c" stroke-width="1.0" stroke-dasharray="1.2 1.2"/>
<line x1="499.50" y1="244.4" x2="499.50" y2="400.2" stroke="#585858" stroke-width="1.0" stroke-dasharray="1.1 1.3"/>
<line x1="87.50" y1="244.4" x2="87.50" y2="400.2" stroke="#3e5762" stroke-width="1"/>
<line x1="123.00" y1="244.4" x2="123.00" y2="400.2" stroke="#3e5762" stroke-width="1"/>
<line x1="152.50" y1="244.4" x2="152.50" y2="400.2" stroke="#3e5762" stroke-width="1"/>
<line x1="180.80" y1="244.4" x2="180.80" y2="400.2" stroke="#3e5762" stroke-width="1"/>
<line x1="207.50" y1="244.4" x2="207.50" y2="400.2" stroke="#3e5762" stroke-width="1"/>
<line x1="232.50" y1="244.4" x2="232.50" y2="400.2" stroke="#3e5762" stroke-width="1"/>
<line x1="256.00" y1="244.4" x2="256.00" y2="400.2" stroke="#3e5762" stroke-width="1"/>
<line x1="277.50" y1="244.4" x2="277.50" y2="400.2" stroke="#3e5762" stroke-width="1"/>
<line x1="298.10" y1="244.4" x2="298.10" y2="400.2" stroke="#3e5762" stroke-width="1"/>
<line x1="318.10" y1="244.4" x2="318.10" y2="400.2" stroke="#3e5762" stroke-width="1"/>
<line x1="338.50" y1="244.4" x2="338.50" y2="400.2" stroke="#3e5762" stroke-width="1"/>
<line x1="358.10" y1="244.4" x2="358.10" y2="400.2" stroke="#3e5762" stroke-width="1"/>
<line x1="373.75" y1="244.4" x2="373.75" y2="400.2" stroke="#3e5762" stroke-width="1"/>
<line x1="390.25" y1="244.4" x2="390.25" y2="400.2" stroke="#3e5762" stroke-width="1"/>
<line x1="404.60" y1="244.4" x2="404.60" y2="400.2" stroke="#3e5762" stroke-width="1"/>
<line x1="418.00" y1="244.4" x2="418.00" y2="400.2" stroke="#3e5762" stroke-width="1"/>
<line x1="430.90" y1="244.4" x2="430.90" y2="400.2" stroke="#3e5762" stroke-width="1"/>
<line x1="442.10" y1="244.4" x2="442.10" y2="400.2" stroke="#3e5762" stroke-width="1"/>
<line x1="450.60" y1="244.4" x2="450.60" y2="400.2" stroke="#3e5762" stroke-width="1"/>
<line x1="459.00" y1="244.4" x2="459.00" y2="400.2" stroke="#3e5762" stroke-width="1"/>
<line x1="466.70" y1="244.4" x2="466.70" y2="400.2" stroke="#3e5762" stroke-width="1"/>
<line x1="473.90" y1="244.4" x2="473.90" y2="400.2" stroke="#3e5762" stroke-width="1"/>
<line x1="497.40" y1="244.4" x2="497.40" y2="400.2" stroke="#3e5762" stroke-width="1"/>
<rect x="50.60" y="244.4" width="1.3" height="155.80" fill="#9fbcc2" opacity="0.8"/>
<rect x="50.9" y="244.4" width="18.10" height="16.90" fill="#b98f00"/>
<rect x="50.9" y="244.4" width="4.30" height="33.80" fill="#b98f00"/>
<rect x="56.2" y="244.4" width="2.80" height="33.80" fill="#b98f00"/>
<rect x="50.9" y="244.4" width="3.40" height="50.70" fill="#b98f00"/>
<rect x="57.3" y="244.4" width="1.70" height="50.70" fill="#b98f00"/>
<rect x="50.9" y="244.4" width="2.30" height="67.60" fill="#b98f00"/>
<rect x="112.5" y="244.4" width="9.50" height="16.90" fill="#b98f00"/>
<rect x="113.8" y="244.4" width="0.80" height="33.80" fill="#b98f00"/>
<rect x="185.75" y="244.4" width="4.75" height="16.90" fill="#b98f00"/>
<rect x="207.5" y="244.4" width="5.50" height="33.80" fill="#b98f00"/>
<rect x="276.75" y="244.4" width="21.25" height="16.90" fill="#b98f00"/>
<rect x="278.75" y="244.4" width="4.25" height="33.80" fill="#b98f00"/>
<rect x="279.3" y="244.4" width="2.00" height="50.70" fill="#b98f00"/>
<rect x="298.75" y="244.4" width="18.75" height="16.90" fill="#b98f00"/>
<rect x="332.0" y="244.4" width="3.00" height="16.90" fill="#b98f00"/>
<rect x="333.0" y="244.4" width="0.80" height="33.80" fill="#b98f00"/>
<rect x="352.5" y="244.4" width="4.50" height="16.90" fill="#b98f00"/>
<rect x="415.0" y="244.4" width="3.00" height="16.90" fill="#b98f00"/>
<rect x="422.5" y="244.4" width="4.25" height="16.90" fill="#b98f00"/>
<rect x="454.25" y="244.4" width="5.25" height="16.90" fill="#b98f00"/>
<rect x="455.5" y="244.4" width="0.80" height="33.80" fill="#b98f00"/>
<rect x="126.35" y="244.4" width="0.9" height="16.90" fill="#b98f00"/>
<rect x="129.55" y="244.4" width="0.9" height="16.90" fill="#b98f00"/>
<rect x="146.55" y="244.4" width="0.9" height="16.90" fill="#b98f00"/>
<rect x="194.55" y="244.4" width="0.9" height="16.90" fill="#b98f00"/>
<rect x="233.35" y="244.4" width="0.9" height="16.90" fill="#b98f00"/>
<rect x="244.05" y="244.4" width="0.9" height="16.90" fill="#b98f00"/>
<rect x="287.55" y="244.4" width="0.9" height="33.80" fill="#b98f00"/>
<rect x="290.85" y="244.4" width="0.9" height="33.80" fill="#b98f00"/>
<rect x="305.05" y="244.4" width="0.9" height="33.80" fill="#b98f00"/>
<rect x="347.05" y="244.4" width="0.9" height="16.90" fill="#b98f00"/>
<rect x="399.55" y="244.4" width="0.9" height="16.90" fill="#b98f00"/>
<line x1="47.7" y1="235.5" x2="47.7" y2="401.0" stroke="#000" stroke-width="1.5"/>
<line x1="43.1" y1="242.5" x2="47.7" y2="242.5" stroke="#000" stroke-width="1.3"/>
<text transform="translate(38.7,246.00) scale(0.94,1)" x="0" y="0" font-size="8.4" text-anchor="end" fill="#000" stroke="#000" stroke-width="0.1">0%</text>
<line x1="43.1" y1="257.67" x2="47.7" y2="257.67" stroke="#000" stroke-width="1.3"/>
<text transform="translate(38.7,261.17) scale(0.94,1)" x="0" y="0" font-size="8.4" text-anchor="end" fill="#000" stroke="#000" stroke-width="0.1">2%</text>
<line x1="43.1" y1="272.84" x2="47.7" y2="272.84" stroke="#000" stroke-width="1.3"/>
<text transform="translate(38.7,276.34) scale(0.94,1)" x="0" y="0" font-size="8.4" text-anchor="end" fill="#000" stroke="#000" stroke-width="0.1">4%</text>
<line x1="43.1" y1="288.01" x2="47.7" y2="288.01" stroke="#000" stroke-width="1.3"/>
<text transform="translate(38.7,291.51) scale(0.94,1)" x="0" y="0" font-size="8.4" text-anchor="end" fill="#000" stroke="#000" stroke-width="0.1">6%</text>
<line x1="43.1" y1="303.18" x2="47.7" y2="303.18" stroke="#000" stroke-width="1.3"/>
<text transform="translate(38.7,306.68) scale(0.94,1)" x="0" y="0" font-size="8.4" text-anchor="end" fill="#000" stroke="#000" stroke-width="0.1">8%</text>
<line x1="43.1" y1="318.35" x2="47.7" y2="318.35" stroke="#000" stroke-width="1.3"/>
<text transform="translate(38.7,321.85) scale(0.94,1)" x="0" y="0" font-size="8.4" text-anchor="end" fill="#000" stroke="#000" stroke-width="0.1">10%</text>
<line x1="43.1" y1="333.52" x2="47.7" y2="333.52" stroke="#000" stroke-width="1.3"/>
<text transform="translate(38.7,337.02) scale(0.94,1)" x="0" y="0" font-size="8.4" text-anchor="end" fill="#000" stroke="#000" stroke-width="0.1">12%</text>
<line x1="43.1" y1="348.69" x2="47.7" y2="348.69" stroke="#000" stroke-width="1.3"/>
<text transform="translate(38.7,352.19) scale(0.94,1)" x="0" y="0" font-size="8.4" text-anchor="end" fill="#000" stroke="#000" stroke-width="0.1">14%</text>
<line x1="43.1" y1="363.86" x2="47.7" y2="363.86" stroke="#000" stroke-width="1.3"/>
<text transform="translate(38.7,367.36) scale(0.94,1)" x="0" y="0" font-size="8.4" text-anchor="end" fill="#000" stroke="#000" stroke-width="0.1">16%</text>
<line x1="43.1" y1="379.03" x2="47.7" y2="379.03" stroke="#000" stroke-width="1.3"/>
<text transform="translate(38.7,382.53) scale(0.94,1)" x="0" y="0" font-size="8.4" text-anchor="end" fill="#000" stroke="#000" stroke-width="0.1">18%</text>
<line x1="43.1" y1="394.2" x2="47.7" y2="394.2" stroke="#000" stroke-width="1.3"/>
<text transform="translate(38.7,397.70) scale(0.94,1)" x="0" y="0" font-size="8.4" text-anchor="end" fill="#000" stroke="#000" stroke-width="0.1">20%</text>
<line x1="47.0" y1="400.8" x2="509.0" y2="400.8" stroke="#000" stroke-width="1.5"/>
<line x1="69.00" y1="400.8" x2="69.00" y2="405.20" stroke="#000" stroke-width="1.2"/>
<text x="69.00" y="415.9" font-size="6.9" text-anchor="middle" fill="#000" stroke="#000" stroke-width="0.15">1</text>
<line x1="105.20" y1="400.8" x2="105.20" y2="405.20" stroke="#000" stroke-width="1.2"/>
<text x="105.20" y="415.9" font-size="6.9" text-anchor="middle" fill="#000" stroke="#000" stroke-width="0.15">2</text>
<line x1="137.70" y1="400.8" x2="137.70" y2="405.20" stroke="#000" stroke-width="1.2"/>
<text x="137.70" y="415.9" font-size="6.9" text-anchor="middle" fill="#000" stroke="#000" stroke-width="0.15">3</text>
<line x1="166.75" y1="400.8" x2="166.75" y2="405.20" stroke="#000" stroke-width="1.2"/>
<text x="166.75" y="415.9" font-size="6.9" text-anchor="middle" fill="#000" stroke="#000" stroke-width="0.15">4</text>
<line x1="194.50" y1="400.8" x2="194.50" y2="405.20" stroke="#000" stroke-width="1.2"/>
<text x="194.50" y="415.9" font-size="6.9" text-anchor="middle" fill="#000" stroke="#000" stroke-width="0.15">5</text>
<line x1="220.50" y1="400.8" x2="220.50" y2="405.20" stroke="#000" stroke-width="1.2"/>
<text x="220.50" y="415.9" font-size="6.9" text-anchor="middle" fill="#000" stroke="#000" stroke-width="0.15">6</text>
<line x1="244.50" y1="400.8" x2="244.50" y2="405.20" stroke="#000" stroke-width="1.2"/>
<text x="244.50" y="415.9" font-size="6.9" text-anchor="middle" fill="#000" stroke="#000" stroke-width="0.15">7</text>
<line x1="267.50" y1="400.8" x2="267.50" y2="405.20" stroke="#000" stroke-width="1.2"/>
<text x="267.50" y="415.9" font-size="6.9" text-anchor="middle" fill="#000" stroke="#000" stroke-width="0.15">8</text>
<line x1="288.00" y1="400.8" x2="288.00" y2="405.20" stroke="#000" stroke-width="1.2"/>
<text x="288.00" y="415.9" font-size="6.9" text-anchor="middle" fill="#000" stroke="#000" stroke-width="0.15">9</text>
<line x1="308.20" y1="400.8" x2="308.20" y2="405.20" stroke="#000" stroke-width="1.2"/>
<text x="308.20" y="415.9" font-size="6.9" text-anchor="middle" fill="#000" stroke="#000" stroke-width="0.15">10</text>
<line x1="328.30" y1="400.8" x2="328.30" y2="405.20" stroke="#000" stroke-width="1.2"/>
<text x="328.30" y="415.9" font-size="6.9" text-anchor="middle" fill="#000" stroke="#000" stroke-width="0.15">11</text>
<line x1="348.30" y1="400.8" x2="348.30" y2="405.20" stroke="#000" stroke-width="1.2"/>
<text x="348.30" y="415.9" font-size="6.9" text-anchor="middle" fill="#000" stroke="#000" stroke-width="0.15">12</text>
<line x1="366.50" y1="400.8" x2="366.50" y2="405.20" stroke="#000" stroke-width="1.2"/>
<text x="366.50" y="415.9" font-size="6.9" text-anchor="middle" fill="#000" stroke="#000" stroke-width="0.15">13</text>
<line x1="384.80" y1="400.8" x2="384.80" y2="405.20" stroke="#000" stroke-width="1.2"/>
<text x="384.80" y="415.9" font-size="6.9" text-anchor="middle" fill="#000" stroke="#000" stroke-width="0.15">14</text>
<line x1="398.30" y1="400.8" x2="398.30" y2="405.20" stroke="#000" stroke-width="1.2"/>
<text x="398.30" y="415.9" font-size="6.9" text-anchor="middle" fill="#000" stroke="#000" stroke-width="0.15">15</text>
<line x1="413.00" y1="400.8" x2="413.00" y2="405.20" stroke="#000" stroke-width="1.2"/>
<text x="413.00" y="415.9" font-size="6.9" text-anchor="middle" fill="#000" stroke="#000" stroke-width="0.15">16</text>
<line x1="425.20" y1="400.8" x2="425.20" y2="405.20" stroke="#000" stroke-width="1.2"/>
<text x="425.20" y="415.9" font-size="6.9" text-anchor="middle" fill="#000" stroke="#000" stroke-width="0.15">17</text>
<line x1="436.90" y1="400.8" x2="436.90" y2="405.20" stroke="#000" stroke-width="1.2"/>
<text x="436.90" y="415.9" font-size="6.9" text-anchor="middle" fill="#000" stroke="#000" stroke-width="0.15">18</text>
<line x1="447.50" y1="400.8" x2="447.50" y2="405.20" stroke="#000" stroke-width="1.2"/>
<text x="447.50" y="424.2" font-size="6.9" text-anchor="middle" fill="#000" stroke="#000" stroke-width="0.15">19</text>
<line x1="455.60" y1="400.8" x2="455.60" y2="405.20" stroke="#000" stroke-width="1.2"/>
<text x="455.60" y="415.9" font-size="6.9" text-anchor="middle" fill="#000" stroke="#000" stroke-width="0.15">20</text>
<line x1="464.00" y1="400.8" x2="464.00" y2="405.20" stroke="#000" stroke-width="1.2"/>
<text x="464.00" y="424.2" font-size="6.9" text-anchor="middle" fill="#000" stroke="#000" stroke-width="0.15">21</text>
<line x1="471.30" y1="400.8" x2="471.30" y2="405.20" stroke="#000" stroke-width="1.2"/>
<text x="471.30" y="415.9" font-size="6.9" text-anchor="middle" fill="#000" stroke="#000" stroke-width="0.15">22</text>
<line x1="486.20" y1="400.8" x2="486.20" y2="405.20" stroke="#000" stroke-width="1.2"/>
<text x="486.20" y="415.9" font-size="6.9" text-anchor="middle" fill="#000" stroke="#000" stroke-width="0.15">X</text>
<line x1="503.00" y1="400.8" x2="503.00" y2="405.20" stroke="#000" stroke-width="1.2"/>
<text x="503.00" y="415.9" font-size="6.9" text-anchor="middle" fill="#000" stroke="#000" stroke-width="0.15">Y</text>
<rect x="324.4" y="437.6" width="7.4" height="7.4" fill="#f00000"/>
<text x="337.2" y="444.8" font-size="10" fill="#111">CN loss</text>
<rect x="386.9" y="437.6" width="7.4" height="7.4" fill="#0000f0"/>
<text x="397.6" y="444.8" font-size="10" fill="#111">CN gain</text>
<rect x="447.6" y="437.6" width="7.4" height="7.4" fill="#c0990a"/>
<text x="459.0" y="444.8" font-size="10" fill="#111">CNN-LOH</text>
<text transform="translate(9.5,455.8) scale(0.93,1)" x="0" y="0" font-size="16.5" font-weight="bold" fill="#000" stroke="#000" stroke-width="0.35">C</text>
<rect x="51.5" y="465.0" width="449.10" height="170.60" fill="#dddddd"/>
<rect x="51.5" y="468.20" width="449.10" height="1.0" fill="#ebecec"/>
<rect x="51.5" y="488.72" width="449.10" height="1.0" fill="#ebecec"/>
<rect x="51.5" y="509.24" width="449.10" height="1.0" fill="#ebecec"/>
<rect x="51.5" y="529.76" width="449.10" height="1.0" fill="#ebecec"/>
<rect x="51.5" y="570.80" width="449.10" height="1.0" fill="#ebecec"/>
<rect x="51.5" y="591.32" width="449.10" height="1.0" fill="#ebecec"/>
<rect x="51.5" y="611.84" width="449.10" height="1.0" fill="#ebecec"/>
<rect x="51.5" y="632.36" width="449.10" height="1.0" fill="#ebecec"/>
<rect x="51.50" y="465.0" width="36.25" height="170.60" fill="#a8b0b9"/>
<rect x="51.50" y="468.20" width="36.25" height="1.0" fill="#b2cdd2"/>
<rect x="51.50" y="488.72" width="36.25" height="1.0" fill="#b2cdd2"/>
<rect x="51.50" y="509.24" width="36.25" height="1.0" fill="#b2cdd2"/>
<rect x="51.50" y="529.76" width="36.25" height="1.0" fill="#b2cdd2"/>
<rect x="51.50" y="570.80" width="36.25" height="1.0" fill="#b2cdd2"/>
<rect x="51.50" y="591.32" width="36.25" height="1.0" fill="#b2cdd2"/>
<rect x="51.50" y="611.84" width="36.25" height="1.0" fill="#b2cdd2"/>
<rect x="51.50" y="632.36" width="36.25" height="1.0" fill="#b2cdd2"/>
<rect x="123.10" y="465.0" width="29.15" height="170.60" fill="#a8b0b9"/>
<rect x="123.10" y="468.20" width="29.15" height="1.0" fill="#b2cdd2"/>
<rect x="123.10" y="488.72" width="29.15" height="1.0" fill="#b2cdd2"/>
<rect x="123.10" y="509.24" width="29.15" height="1.0" fill="#b2cdd2"/>
<rect x="123.10" y="529.76" width="29.15" height="1.0" fill="#b2cdd2"/>
<rect x="123.10" y="570.80" width="29.15" height="1.0" fill="#b2cdd2"/>
<rect x="123.10" y="591.32" width="29.15" height="1.0" fill="#b2cdd2"/>
<rect x="123.10" y="611.84" width="29.15" height="1.0" fill="#b2cdd2"/>
<rect x="123.10" y="632.36" width="29.15" height="1.0" fill="#b2cdd2"/>
<rect x="179.25" y="465.0" width="26.25" height="170.60" fill="#a8b0b9"/>
<rect x="179.25" y="468.20" width="26.25" height="1.0" fill="#b2cdd2"/>
<rect x="179.25" y="488.72" width="26.25" height="1.0" fill="#b2cdd2"/>
<rect x="179.25" y="509.24" width="26.25" height="1.0" fill="#b2cdd2"/>
<rect x="179.25" y="529.76" width="26.25" height="1.0" fill="#b2cdd2"/>
<rect x="179.25" y="570.80" width="26.25" height="1.0" fill="#b2cdd2"/>
<rect x="179.25" y="591.32" width="26.25" height="1.0" fill="#b2cdd2"/>
<rect x="179.25" y="611.84" width="26.25" height="1.0" fill="#b2cdd2"/>
<rect x="179.25" y="632.36" width="26.25" height="1.0" fill="#b2cdd2"/>
<rect x="230.50" y="465.0" width="23.25" height="170.60" fill="#a8b0b9"/>
<rect x="230.50" y="468.20" width="23.25" height="1.0" fill="#b2cdd2"/>
<rect x="230.50" y="488.72" width="23.25" height="1.0" fill="#b2cdd2"/>
<rect x="230.50" y="509.24" width="23.25" height="1.0" fill="#b2cdd2"/>
<rect x="230.50" y="529.76" width="23.25" height="1.0" fill="#b2cdd2"/>
<rect x="230.50" y="570.80" width="23.25" height="1.0" fill="#b2cdd2"/>
<rect x="230.50" y="591.32" width="23.25" height="1.0" fill="#b2cdd2"/>
<rect x="230.50" y="611.84" width="23.25" height="1.0" fill="#b2cdd2"/>
<rect x="230.50" y="632.36" width="23.25" height="1.0" fill="#b2cdd2"/>
<rect x="275.00" y="465.0" width="20.50" height="170.60" fill="#a8b0b9"/>
<rect x="275.00" y="468.20" width="20.50" height="1.0" fill="#b2cdd2"/>
<rect x="275.00" y="488.72" width="20.50" height="1.0" fill="#b2cdd2"/>
<rect x="275.00" y="509.24" width="20.50" height="1.0" fill="#b2cdd2"/>
<rect x="275.00" y="529.76" width="20.50" height="1.0" fill="#b2cdd2"/>
<rect x="275.00" y="570.80" width="20.50" height="1.0" fill="#b2cdd2"/>
<rect x="275.00" y="591.32" width="20.50" height="1.0" fill="#b2cdd2"/>
<rect x="275.00" y="611.84" width="20.50" height="1.0" fill="#b2cdd2"/>
<rect x="275.00" y="632.36" width="20.50" height="1.0" fill="#b2cdd2"/>
<rect x="315.50" y="465.0" width="19.50" height="170.60" fill="#a8b0b9"/>
<rect x="315.50" y="468.20" width="19.50" height="1.0" fill="#b2cdd2"/>
<rect x="315.50" y="488.72" width="19.50" height="1.0" fill="#b2cdd2"/>
<rect x="315.50" y="509.24" width="19.50" height="1.0" fill="#b2cdd2"/>
<rect x="315.50" y="529.76" width="19.50" height="1.0" fill="#b2cdd2"/>
<rect x="315.50" y="570.80" width="19.50" height="1.0" fill="#b2cdd2"/>
<rect x="315.50" y="591.32" width="19.50" height="1.0" fill="#b2cdd2"/>
<rect x="315.50" y="611.84" width="19.50" height="1.0" fill="#b2cdd2"/>
<rect x="315.50" y="632.36" width="19.50" height="1.0" fill="#b2cdd2"/>
<rect x="354.40" y="465.0" width="17.50" height="170.60" fill="#a8b0b9"/>
<rect x="354.40" y="468.20" width="17.50" height="1.0" fill="#b2cdd2"/>
<rect x="354.40" y="488.72" width="17.50" height="1.0" fill="#b2cdd2"/>
<rect x="354.40" y="509.24" width="17.50" height="1.0" fill="#b2cdd2"/>
<rect x="354.40" y="529.76" width="17.50" height="1.0" fill="#b2cdd2"/>
<rect x="354.40" y="570.80" width="17.50" height="1.0" fill="#b2cdd2"/>
<rect x="354.40" y="591.32" width="17.50" height="1.0" fill="#b2cdd2"/>
<rect x="354.40" y="611.84" width="17.50" height="1.0" fill="#b2cdd2"/>
<rect x="354.40" y="632.36" width="17.50" height="1.0" fill="#b2cdd2"/>
<rect x="386.25" y="465.0" width="14.95" height="170.60" fill="#a8b0b9"/>
<rect x="386.25" y="468.20" width="14.95" height="1.0" fill="#b2cdd2"/>
<rect x="386.25" y="488.72" width="14.95" height="1.0" fill="#b2cdd2"/>
<rect x="386.25" y="509.24" width="14.95" height="1.0" fill="#b2cdd2"/>
<rect x="386.25" y="529.76" width="14.95" height="1.0" fill="#b2cdd2"/>
<rect x="386.25" y="570.80" width="14.95" height="1.0" fill="#b2cdd2"/>
<rect x="386.25" y="591.32" width="14.95" height="1.0" fill="#b2cdd2"/>
<rect x="386.25" y="611.84" width="14.95" height="1.0" fill="#b2cdd2"/>
<rect x="386.25" y="632.36" width="14.95" height="1.0" fill="#b2cdd2"/>
<rect x="414.20" y="465.0" width="12.60" height="170.60" fill="#a8b0b9"/>
<rect x="414.20" y="468.20" width="12.60" height="1.0" fill="#b2cdd2"/>
<rect x="414.20" y="488.72" width="12.60" height="1.0" fill="#b2cdd2"/>
<rect x="414.20" y="509.24" width="12.60" height="1.0" fill="#b2cdd2"/>
<rect x="414.20" y="529.76" width="12.60" height="1.0" fill="#b2cdd2"/>
<rect x="414.20" y="570.80" width="12.60" height="1.0" fill="#b2cdd2"/>
<rect x="414.20" y="591.32" width="12.60" height="1.0" fill="#b2cdd2"/>
<rect x="414.20" y="611.84" width="12.60" height="1.0" fill="#b2cdd2"/>
<rect x="414.20" y="632.36" width="12.60" height="1.0" fill="#b2cdd2"/>
<rect x="437.10" y="465.0" width="9.40" height="170.60" fill="#a8b0b9"/>
<rect x="437.10" y="468.20" width="9.40" height="1.0" fill="#b2cdd2"/>
<rect x="437.10" y="488.72" width="9.40" height="1.0" fill="#b2cdd2"/>
<rect x="437.10" y="509.24" width="9.40" height="1.0" fill="#b2cdd2"/>
<rect x="437.10" y="529.76" width="9.40" height="1.0" fill="#b2cdd2"/>
<rect x="437.10" y="570.80" width="9.40" height="1.0" fill="#b2cdd2"/>
<rect x="437.10" y="591.32" width="9.40" height="1.0" fill="#b2cdd2"/>
<rect x="437.10" y="611.84" width="9.40" height="1.0" fill="#b2cdd2"/>
<rect x="437.10" y="632.36" width="9.40" height="1.0" fill="#b2cdd2"/>
<rect x="455.00" y="465.0" width="8.00" height="170.60" fill="#a8b0b9"/>
<rect x="455.00" y="468.20" width="8.00" height="1.0" fill="#b2cdd2"/>
<rect x="455.00" y="488.72" width="8.00" height="1.0" fill="#b2cdd2"/>
<rect x="455.00" y="509.24" width="8.00" height="1.0" fill="#b2cdd2"/>
<rect x="455.00" y="529.76" width="8.00" height="1.0" fill="#b2cdd2"/>
<rect x="455.00" y="570.80" width="8.00" height="1.0" fill="#b2cdd2"/>
<rect x="455.00" y="591.32" width="8.00" height="1.0" fill="#b2cdd2"/>
<rect x="455.00" y="611.84" width="8.00" height="1.0" fill="#b2cdd2"/>
<rect x="455.00" y="632.36" width="8.00" height="1.0" fill="#b2cdd2"/>
<rect x="468.80" y="465.0" width="24.20" height="170.60" fill="#a8b0b9"/>
<rect x="468.80" y="468.20" width="24.20" height="1.0" fill="#b2cdd2"/>
<rect x="468.80" y="488.72" width="24.20" height="1.0" fill="#b2cdd2"/>
<rect x="468.80" y="509.24" width="24.20" height="1.0" fill="#b2cdd2"/>
<rect x="468.80" y="529.76" width="24.20" height="1.0" fill="#b2cdd2"/>
<rect x="468.80" y="570.80" width="24.20" height="1.0" fill="#b2cdd2"/>
<rect x="468.80" y="591.32" width="24.20" height="1.0" fill="#b2cdd2"/>
<rect x="468.80" y="611.84" width="24.20" height="1.0" fill="#b2cdd2"/>
<rect x="468.80" y="632.36" width="24.20" height="1.0" fill="#b2cdd2"/>
<rect x="88.25" y="465.0" width="1" height="170.60" fill="#f0f1f1"/>
<rect x="121.60" y="465.0" width="1" height="170.60" fill="#f0f1f1"/>
<rect x="152.75" y="465.0" width="1" height="170.60" fill="#f0f1f1"/>
<rect x="177.75" y="465.0" width="1" height="170.60" fill="#f0f1f1"/>
<rect x="206.00" y="465.0" width="1" height="170.60" fill="#f0f1f1"/>
<rect x="229.00" y="465.0" width="1" height="170.60" fill="#f0f1f1"/>
<rect x="254.25" y="465.0" width="1" height="170.60" fill="#f0f1f1"/>
<rect x="273.50" y="465.0" width="1" height="170.60" fill="#f0f1f1"/>
<rect x="296.00" y="465.0" width="1" height="170.60" fill="#f0f1f1"/>
<rect x="314.00" y="465.0" width="1" height="170.60" fill="#f0f1f1"/>
<rect x="335.50" y="465.0" width="1" height="170.60" fill="#f0f1f1"/>
<rect x="352.90" y="465.0" width="1" height="170.60" fill="#f0f1f1"/>
<rect x="372.40" y="465.0" width="1" height="170.60" fill="#f0f1f1"/>
<rect x="384.75" y="465.0" width="1" height="170.60" fill="#f0f1f1"/>
<rect x="401.70" y="465.0" width="1" height="170.60" fill="#f0f1f1"/>
<rect x="412.70" y="465.0" width="1" height="170.60" fill="#f0f1f1"/>
<rect x="427.30" y="465.0" width="1" height="170.60" fill="#f0f1f1"/>
<rect x="435.60" y="465.0" width="1" height="170.60" fill="#f0f1f1"/>
<rect x="447.00" y="465.0" width="1" height="170.60" fill="#f0f1f1"/>
<rect x="453.50" y="465.0" width="1" height="170.60" fill="#f0f1f1"/>
<rect x="463.50" y="465.0" width="1" height="170.60" fill="#f0f1f1"/>
<rect x="467.30" y="465.0" width="1" height="170.60" fill="#f0f1f1"/>
<rect x="493.50" y="465.0" width="1" height="170.60" fill="#f0f1f1"/>
<line x1="69.50" y1="465.0" x2="69.50" y2="635.6" stroke="#2e6a7c" stroke-width="1.0" stroke-dasharray="1.2 1.2"/>
<line x1="101.50" y1="465.0" x2="101.50" y2="635.6" stroke="#585858" stroke-width="1.0" stroke-dasharray="1.1 1.3"/>
<line x1="136.50" y1="465.0" x2="136.50" y2="635.6" stroke="#2e6a7c" stroke-width="1.0" stroke-dasharray="1.2 1.2"/>
<line x1="159.50" y1="465.0" x2="159.50" y2="635.6" stroke="#585858" stroke-width="1.0" stroke-dasharray="1.1 1.3"/>
<line x1="186.50" y1="465.0" x2="186.50" y2="635.6" stroke="#2e6a7c" stroke-width="1.0" stroke-dasharray="1.2 1.2"/>
<line x1="214.50" y1="465.0" x2="214.50" y2="635.6" stroke="#585858" stroke-width="1.0" stroke-dasharray="1.1 1.3"/>
<line x1="239.50" y1="465.0" x2="239.50" y2="635.6" stroke="#2e6a7c" stroke-width="1.0" stroke-dasharray="1.2 1.2"/>
<line x1="260.50" y1="465.0" x2="260.50" y2="635.6" stroke="#585858" stroke-width="1.0" stroke-dasharray="1.1 1.3"/>
<line x1="282.50" y1="465.0" x2="282.50" y2="635.6" stroke="#2e6a7c" stroke-width="1.0" stroke-dasharray="1.2 1.2"/>
<line x1="301.50" y1="465.0" x2="301.50" y2="635.6" stroke="#585858" stroke-width="1.0" stroke-dasharray="1.1 1.3"/>
<line x1="323.50" y1="465.0" x2="323.50" y2="635.6" stroke="#2e6a7c" stroke-width="1.0" stroke-dasharray="1.2 1.2"/>
<line x1="340.50" y1="465.0" x2="340.50" y2="635.6" stroke="#585858" stroke-width="1.0" stroke-dasharray="1.1 1.3"/>
<line x1="356.50" y1="465.0" x2="356.50" y2="635.6" stroke="#2e6a7c" stroke-width="1.0" stroke-dasharray="1.2 1.2"/>
<line x1="373.50" y1="465.0" x2="373.50" y2="635.6" stroke="#585858" stroke-width="1.0" stroke-dasharray="1.1 1.3"/>
<line x1="389.50" y1="465.0" x2="389.50" y2="635.6" stroke="#2e6a7c" stroke-width="1.0" stroke-dasharray="1.2 1.2"/>
<line x1="406.50" y1="465.0" x2="406.50" y2="635.6" stroke="#585858" stroke-width="1.0" stroke-dasharray="1.1 1.3"/>
<line x1="418.50" y1="465.0" x2="418.50" y2="635.6" stroke="#2e6a7c" stroke-width="1.0" stroke-dasharray="1.2 1.2"/>
<line x1="428.50" y1="465.0" x2="428.50" y2="635.6" stroke="#585858" stroke-width="1.0" stroke-dasharray="1.1 1.3"/>
<line x1="441.50" y1="465.0" x2="441.50" y2="635.6" stroke="#2e6a7c" stroke-width="1.0" stroke-dasharray="1.2 1.2"/>
<line x1="450.50" y1="465.0" x2="450.50" y2="635.6" stroke="#585858" stroke-width="1.0" stroke-dasharray="1.1 1.3"/>
<line x1="457.50" y1="465.0" x2="457.50" y2="635.6" stroke="#2e6a7c" stroke-width="1.0" stroke-dasharray="1.2 1.2"/>
<line x1="464.50" y1="465.0" x2="464.50" y2="635.6" stroke="#585858" stroke-width="1.0" stroke-dasharray="1.1 1.3"/>
<line x1="478.50" y1="465.0" x2="478.50" y2="635.6" stroke="#2e6a7c" stroke-width="1.0" stroke-dasharray="1.2 1.2"/>
<line x1="494.50" y1="465.0" x2="494.50" y2="635.6" stroke="#585858" stroke-width="1.0" stroke-dasharray="1.1 1.3"/>
<line x1="87.75" y1="465.0" x2="87.75" y2="635.6" stroke="#3e5762" stroke-width="1"/>
<line x1="123.10" y1="465.0" x2="123.10" y2="635.6" stroke="#3e5762" stroke-width="1"/>
<line x1="152.25" y1="465.0" x2="152.25" y2="635.6" stroke="#3e5762" stroke-width="1"/>
<line x1="179.25" y1="465.0" x2="179.25" y2="635.6" stroke="#3e5762" stroke-width="1"/>
<line x1="205.50" y1="465.0" x2="205.50" y2="635.6" stroke="#3e5762" stroke-width="1"/>
<line x1="230.50" y1="465.0" x2="230.50" y2="635.6" stroke="#3e5762" stroke-width="1"/>
<line x1="253.75" y1="465.0" x2="253.75" y2="635.6" stroke="#3e5762" stroke-width="1"/>
<line x1="275.00" y1="465.0" x2="275.00" y2="635.6" stroke="#3e5762" stroke-width="1"/>
<line x1="295.50" y1="465.0" x2="295.50" y2="635.6" stroke="#3e5762" stroke-width="1"/>
<line x1="315.50" y1="465.0" x2="315.50" y2="635.6" stroke="#3e5762" stroke-width="1"/>
<line x1="335.00" y1="465.0" x2="335.00" y2="635.6" stroke="#3e5762" stroke-width="1"/>
<line x1="354.40" y1="465.0" x2="354.40" y2="635.6" stroke="#3e5762" stroke-width="1"/>
<line x1="371.90" y1="465.0" x2="371.90" y2="635.6" stroke="#3e5762" stroke-width="1"/>
<line x1="386.25" y1="465.0" x2="386.25" y2="635.6" stroke="#3e5762" stroke-width="1"/>
<line x1="401.20" y1="465.0" x2="401.20" y2="635.6" stroke="#3e5762" stroke-width="1"/>
<line x1="414.20" y1="465.0" x2="414.20" y2="635.6" stroke="#3e5762" stroke-width="1"/>
<line x1="426.80" y1="465.0" x2="426.80" y2="635.6" stroke="#3e5762" stroke-width="1"/>
<line x1="437.10" y1="465.0" x2="437.10" y2="635.6" stroke="#3e5762" stroke-width="1"/>
<line x1="446.50" y1="465.0" x2="446.50" y2="635.6" stroke="#3e5762" stroke-width="1"/>
<line x1="455.00" y1="465.0" x2="455.00" y2="635.6" stroke="#3e5762" stroke-width="1"/>
<line x1="463.00" y1="465.0" x2="463.00" y2="635.6" stroke="#3e5762" stroke-width="1"/>
<line x1="468.80" y1="465.0" x2="468.80" y2="635.6" stroke="#3e5762" stroke-width="1"/>
<line x1="493.00" y1="465.0" x2="493.00" y2="635.6" stroke="#3e5762" stroke-width="1"/>
<rect x="51.50" y="465.0" width="1.3" height="170.60" fill="#9fbcc2" opacity="0.8"/>
<path d="M51.75,586.00 L52.30,586.00 L52.30,572.00 L53.00,572.00 L53.00,562.00 L53.60,562.00 L53.60,570.00 L54.20,570.00 L54.20,563.50 L55.00,563.50 L55.00,573.00 L56.00,573.00 L56.00,559.50 L57.00,559.50 L57.00,575.00 L57.50,575.00 L57.50,562.50 L58.00,562.50 L58.00,556.00 L60.00,556.00 L60.00,557.00 L60.94,557.00 L60.94,557.00 L62.00,557.00 L62.00,555.00 L64.00,555.00 L64.00,553.00 L65.50,553.00 L65.50,557.00 L66.70,557.00 L66.70,556.00 L68.00,556.00 L68.00,550.40 L73.00,550.40 L73.00,557.00 L74.50,557.00 L74.50,553.00 L76.50,553.00 L76.50,553.50 L78.00,553.50 L78.00,553.90 L79.89,553.90 L79.89,553.90 L81.68,553.90 L81.68,550.40 L83.43,550.40 L83.43,550.40 L85.50,550.40 L85.50,556.00 L86.50,556.00 L86.50,557.00 L87.70,557.00 L87.70,553.90 L90.00,553.90 L90.00,557.00 L91.00,557.00 L91.00,553.90 L92.57,553.90 L92.57,550.40 L96.00,550.40 L96.00,552.50 L97.00,552.50 L97.00,550.40 L100.82,550.40 L100.82,557.40 L102.00,557.40 L102.00,557.50 L104.00,557.50 L104.00,556.00 L107.00,556.00 L107.00,557.50 L108.00,557.50 L108.00,558.50 L109.16,558.50 L109.16,555.00 L113.00,555.00 L113.00,556.50 L113.93,556.50 L113.93,553.00 L115.00,553.00 L115.00,550.40 L116.78,550.40 L116.78,550.40 L120.21,550.40 L120.21,550.40 L124.57,550.40 L124.57,550.40 L127.50,550.40 L127.50,556.00 L128.50,556.00 L128.50,550.40 L132.50,550.40 L132.50,552.50 L133.50,552.50 L133.50,550.40 L135.50,550.40 L135.50,556.00 L136.50,556.00 L136.50,553.90 L137.62,553.90 L137.62,550.40 L141.25,550.40 L141.25,553.90 L142.33,553.90 L142.33,550.40 L147.16,550.40 L147.16,550.40 L151.50,550.40 L151.50,555.00 L152.50,555.00 L152.50,550.40 L156.50,550.40 L156.50,553.00 L157.50,553.00 L157.50,553.90 L159.36,553.90 L159.36,553.90 L160.58,553.90 L160.58,550.40 L162.50,550.40 L162.50,553.50 L163.50,553.50 L163.50,564.40 L165.00,564.40 L165.00,558.00 L166.20,558.00 L166.20,553.90 L167.46,553.90 L167.46,553.90 L169.65,553.90 L169.65,550.40 L173.50,550.40 L173.50,553.50 L175.40,553.50 L175.40,553.50 L177.00,553.50 L177.00,550.40 L179.59,550.40 L179.59,553.90 L182.04,553.90 L182.04,550.40 L185.22,550.40 L185.22,550.40 L188.52,550.40 L188.52,553.90 L191.42,553.90 L191.42,553.90 L193.74,553.90 L193.74,550.40 L197.89,550.40 L197.89,553.90 L200.10,553.90 L200.10,553.90 L202.76,553.90 L202.76,550.40 L207.44,550.40 L207.44,553.90 L208.73,553.90 L208.73,550.40 L211.99,550.40 L211.99,550.40 L213.50,550.40 L213.50,553.70 L216.00,553.70 L216.00,554.50 L218.00,554.50 L218.00,565.00 L220.50,565.00 L220.50,572.50 L221.50,572.50 L221.50,565.00 L223.00,565.00 L223.00,558.00 L224.00,558.00 L224.00,572.50 L225.00,572.50 L225.00,565.00 L229.50,565.00 L229.50,550.40 L234.34,550.40 L234.34,553.90 L235.63,553.90 L235.63,553.90 L236.86,553.90 L236.86,553.90 L239.03,553.90 L239.03,550.40 L240.00,550.40 L240.00,556.00 L244.00,556.00 L244.00,558.00 L246.00,558.00 L246.00,556.00 L250.68,556.00 L250.68,556.00 L252.00,556.00 L252.00,550.40 L254.12,550.40 L254.12,550.40 L255.00,550.40 L255.00,560.00 L258.00,560.00 L258.00,556.00 L260.90,556.00 L260.90,556.00 L262.00,556.00 L262.00,553.90 L263.08,553.90 L263.08,553.90 L265.87,553.90 L265.87,550.40 L267.88,550.40 L267.88,550.40 L272.81,550.40 L272.81,550.40 L276.00,550.40 L276.00,567.50 L277.96,567.50 L277.96,567.50 L279.00,567.50 L279.00,556.00 L283.00,556.00 L283.00,550.40 L286.02,550.40 L286.02,550.40 L290.41,550.40 L290.41,553.90 L291.76,553.90 L291.76,553.90 L293.09,553.90 L293.09,550.40 L295.50,550.40 L295.50,562.50 L298.00,562.50 L298.00,556.00 L300.74,556.00 L300.74,556.00 L302.00,556.00 L302.00,560.00 L304.00,560.00 L304.00,556.00 L307.00,556.00 L307.00,550.40 L311.00,550.40 L311.00,561.50 L312.58,561.50 L312.58,558.00 L314.00,558.00 L314.00,553.90 L315.11,553.90 L315.11,550.40 L317.03,550.40 L317.03,557.40 L318.38,557.40 L318.38,550.40 L321.57,550.40 L321.57,550.40 L326.16,550.40 L326.16,557.40 L327.11,557.40 L327.11,557.40 L327.99,557.40 L327.99,550.40 L329.59,550.40 L329.59,550.40 L331.31,550.40 L331.31,553.90 L334.25,553.90 L334.25,550.40 L336.45,550.40 L336.45,553.90 L338.37,553.90 L338.37,550.40 L341.64,550.40 L341.64,553.90 L343.59,553.90 L343.59,550.40 L348.34,550.40 L348.34,550.40 L352.97,550.40 L352.97,553.90 L354.75,553.90 L354.75,553.90 L356.41,553.90 L356.41,553.90 L358.69,553.90 L358.69,550.40 L360.00,550.40 L360.00,556.00 L362.00,556.00 L362.00,550.40 L366.79,550.40 L366.79,550.40 L369.57,550.40 L369.57,553.90 L370.67,553.90 L370.67,550.40 L372.00,550.40 L372.00,556.50 L372.96,556.50 L372.96,553.00 L376.00,553.00 L376.00,562.40 L380.00,562.40 L380.00,570.50 L383.00,570.50 L383.00,576.00 L384.82,576.00 L384.82,576.00 L386.00,576.00 L386.00,550.40 L389.96,550.40 L389.96,553.90 L391.90,553.90 L391.90,553.90 L394.81,553.90 L394.81,553.90 L396.00,553.90 L396.00,563.80 L400.57,563.80 L400.57,567.30 L402.00,567.30 L402.00,565.00 L404.00,565.00 L404.00,553.90 L405.73,553.90 L405.73,550.40 L410.10,550.40 L410.10,553.90 L411.22,553.90 L411.22,550.40 L414.00,550.40 L414.20,561.50 L416.01,561.50 L416.01,558.00 L417.50,558.00 L417.50,553.90 L420.36,553.90 L420.36,550.40 L424.67,550.40 L424.67,553.90 L426.40,553.90 L426.40,565.60 L427.80,565.60 L427.80,550.40 L430.49,550.40 L430.49,550.40 L435.23,550.40 L435.23,553.90 L436.31,553.90 L436.31,550.40 L437.70,550.40 L437.70,558.00 L438.76,558.00 L438.76,565.00 L440.40,565.00 L440.40,568.90 L441.70,568.90 L441.70,560.20 L445.80,560.20 L445.80,553.90 L448.37,553.90 L448.37,550.40 L450.00,550.40 L450.00,557.40 L451.20,557.40 L451.20,550.40 L454.50,550.40 L454.50,553.90 L456.29,553.90 L456.29,550.40 L460.06,550.40 L460.06,550.40 L463.47,550.40 L463.47,550.40 L468.37,550.40 L468.37,550.40 L500.60,550.40" fill="none" stroke="#5db84a" stroke-width="1.2"/>
<path d="M51.75,550.40 L55.20,550.40 L55.20,547.00 L56.00,547.00 L56.00,550.40 L59.56,550.40 L59.56,546.90 L61.48,546.90 L61.48,550.40 L65.76,550.40 L65.76,546.90 L67.22,546.90 L67.22,546.90 L69.00,546.90 L69.00,547.00 L69.80,547.00 L69.80,550.40 L72.40,550.40 L72.40,525.60 L75.50,525.60 L75.50,529.00 L77.00,529.00 L77.00,532.50 L78.71,532.50 L78.71,532.50 L81.00,532.50 L81.00,535.60 L84.00,535.60 L84.00,538.70 L86.00,538.70 L86.00,543.00 L87.70,543.00 L87.70,550.40 L88.20,550.40 L88.20,536.00 L91.00,536.00 L91.00,532.50 L92.00,532.50 L92.00,529.40 L92.80,529.40 L92.80,532.50 L95.10,532.50 L95.10,532.50 L96.50,532.50 L96.50,525.60 L97.20,525.60 L97.20,532.50 L100.05,532.50 L100.05,532.50 L101.75,532.50 L101.75,543.40 L102.72,543.40 L102.72,550.40 L105.86,550.40 L105.86,550.40 L108.75,550.40 L108.75,546.90 L110.94,546.90 L110.94,550.40 L113.38,550.40 L113.38,546.90 L115.00,546.90 L115.00,547.50 L119.15,547.50 L119.15,544.00 L120.66,544.00 L120.66,547.50 L122.26,547.50 L122.26,547.50 L123.30,547.50 L123.30,511.20 L126.00,511.20 L126.00,514.40 L127.00,514.40 L127.00,517.50 L128.00,517.50 L128.00,514.40 L130.25,514.40 L130.25,514.40 L133.00,514.40 L133.00,511.20 L135.00,511.20 L135.00,514.40 L136.50,514.40 L136.50,517.00 L137.00,517.00 L137.00,508.00 L139.00,508.00 L139.00,501.00 L141.00,501.00 L141.00,497.00 L145.00,497.00 L145.00,494.00 L147.00,494.00 L147.00,489.00 L148.00,489.00 L148.00,485.60 L150.00,485.60 L150.00,490.00 L151.00,490.00 L151.00,493.00 L152.20,493.00 L152.20,550.40 L155.71,550.40 L155.71,550.40 L157.85,550.40 L157.85,546.90 L160.65,546.90 L160.65,550.40 L163.02,550.40 L163.02,546.90 L165.45,546.90 L165.45,550.40 L167.64,550.40 L167.64,550.40 L172.23,550.40 L172.23,550.40 L175.20,550.40 L175.20,546.90 L176.09,546.90 L176.09,550.40 L178.42,550.40 L178.42,550.40 L179.40,550.40 L179.40,539.40 L183.00,539.40 L183.00,536.00 L184.00,536.00 L184.00,539.40 L185.74,539.40 L185.74,539.40 L186.90,539.40 L186.90,543.00 L190.55,543.00 L190.55,543.00 L195.26,543.00 L195.26,543.00 L196.82,543.00 L196.82,543.00 L199.88,543.00 L199.88,539.50 L200.96,539.50 L200.96,543.00 L202.50,543.00 L202.50,546.90 L203.60,546.90 L203.60,550.40 L205.50,550.40 L205.50,535.60 L209.00,535.60 L209.00,532.50 L211.00,532.50 L211.00,535.60 L212.00,535.60 L212.00,543.70 L214.00,543.70 L214.00,546.90 L216.00,546.90 L216.00,544.50 L217.53,544.50 L217.53,548.00 L223.00,548.00 L223.00,546.90 L225.00,546.90 L225.00,550.40 L229.65,550.40 L229.65,550.40 L230.50,550.40 L230.50,543.70 L235.20,543.70 L235.20,543.70 L238.00,543.70 L238.00,550.40 L240.00,550.40 L240.00,543.00 L242.00,543.00 L242.00,537.50 L245.00,537.50 L245.00,542.00 L247.84,542.00 L247.84,542.00 L251.47,542.00 L251.47,538.50 L253.75,538.50 L253.75,542.50 L257.80,542.50 L257.80,542.50 L262.00,542.50 L262.00,540.00 L265.04,540.00 L265.04,540.00 L266.84,540.00 L266.84,540.00 L268.44,540.00 L268.44,540.00 L270.00,540.00 L270.00,536.20 L273.75,536.20 L273.75,542.00 L275.00,542.00 L275.00,550.40 L277.40,550.40 L277.40,543.40 L278.44,543.40 L278.44,550.40 L280.65,550.40 L280.65,546.90 L283.44,546.90 L283.44,550.40 L285.00,550.40 L285.00,540.00 L287.00,540.00 L287.00,535.00 L289.19,535.00 L289.19,535.00 L292.00,535.00 L292.00,528.70 L295.50,528.70 L295.50,550.40 L299.04,550.40 L299.04,550.40 L301.02,550.40 L301.02,550.40 L305.45,550.40 L305.45,550.40 L307.00,550.40 L307.00,547.50 L309.47,547.50 L309.47,547.50 L311.00,547.50 L311.00,550.40 L313.25,550.40 L313.25,550.40 L315.50,550.40 L315.50,541.00 L318.10,541.00 L318.10,541.00 L323.04,541.00 L323.04,541.00 L324.80,541.00 L324.80,537.50 L326.28,537.50 L326.28,541.00 L329.02,541.00 L329.02,541.00 L330.00,541.00 L330.00,543.00 L332.92,543.00 L332.92,543.00 L335.00,543.00 L335.00,525.00 L340.00,525.00 L340.00,520.00 L341.00,520.00 L341.00,512.50 L343.00,512.50 L343.00,507.50 L344.00,507.50 L344.00,505.00 L345.77,505.00 L345.77,505.00 L347.00,505.00 L347.00,507.50 L348.00,507.50 L348.00,517.50 L351.37,517.50 L351.37,517.50 L353.00,517.50 L353.00,519.00 L354.40,519.00 L354.40,550.40 L357.00,550.40 L357.00,546.20 L359.06,546.20 L359.06,546.20 L363.01,546.20 L363.01,546.20 L365.94,546.20 L365.94,546.20 L368.80,546.20 L368.80,546.20 L370.00,546.20 L370.00,550.40 L371.52,550.40 L371.52,550.40 L375.31,550.40 L375.31,550.40 L379.68,550.40 L379.68,550.40 L382.32,550.40 L382.32,550.40 L384.16,550.40 L384.16,550.40 L388.46,550.40 L388.46,550.40 L390.39,550.40 L390.39,550.40 L393.26,550.40 L393.26,546.90 L394.74,546.90 L394.74,550.40 L399.50,550.40 L399.50,550.40 L402.00,550.40 L402.00,540.10 L402.84,540.10 L402.84,543.60 L405.81,543.60 L405.81,543.60 L410.53,543.60 L410.53,543.60 L414.20,543.60 L414.20,550.40 L415.82,550.40 L415.82,550.40 L417.50,550.40 L417.50,546.70 L419.50,546.70 L419.50,540.00 L422.20,540.00 L422.20,532.60 L424.20,532.60 L424.20,525.20 L427.60,525.20 L427.60,501.00 L428.90,501.00 L428.90,490.20 L431.60,490.20 L431.60,487.50 L433.60,487.50 L433.60,481.80 L435.68,481.80 L435.68,481.80 L437.70,481.80 L437.70,550.40 L441.55,550.40 L441.55,550.40 L446.09,550.40 L446.09,550.40 L448.66,550.40 L448.66,546.90 L450.66,546.90 L450.66,550.40 L453.90,550.40 L453.90,550.40 L455.80,550.40 L455.80,543.40 L457.20,543.40 L457.20,540.00 L458.85,540.00 L458.85,540.00 L460.50,540.00 L460.50,536.00 L461.30,536.00 L461.30,536.50 L462.00,536.50 L462.00,550.40 L464.95,550.40 L464.95,550.40 L469.68,550.40 L469.68,550.40 L485.00,550.40 L485.00,547.60 L488.16,547.60 L488.16,547.60 L489.86,547.60 L489.86,547.60 L492.50,547.60 L492.50,550.40 L500.60,550.40" fill="none" stroke="#5db84a" stroke-width="1.2"/>
<path d="M72.40,550.40 L72.40,546.20 L96.75,546.20 L96.75,541.20 L97.60,541.20 L97.60,550.40 M123.75,550.40 L123.75,546.20 L137.30,546.20 L137.30,541.20 L149.00,541.20 L149.00,536.20 L152.20,536.20 L152.20,550.40 M230.50,550.40 L230.50,545.60 L238.50,545.60 L238.50,550.40 M255.00,550.40 L255.00,545.70 L275.00,545.70 L275.00,550.40 M285.00,550.40 L285.00,546.20 L295.00,546.20 L295.00,550.40 M315.50,550.40 L315.50,536.20 L330.00,536.20 L330.00,541.20 L335.00,541.20 L335.00,536.20 L340.00,536.20 L340.00,540.50 L354.40,540.50 L354.40,550.40 M389.00,550.40 L389.00,540.90 L414.00,540.90 L414.00,550.40 M426.20,550.40 L426.20,546.00 L435.70,546.00 L435.70,550.40 M440.40,550.40 L440.40,546.00 L444.40,546.00 L444.40,550.40 M470.00,550.40 L470.00,546.80 L492.50,546.80 L492.50,550.40" fill="none" stroke="#6d3cc6" stroke-width="1.2"/>
<path d="M54.25,550.40 L54.25,555.00 L57.40,555.00 L57.40,550.40 M135.80,550.40 L135.80,555.00 L137.00,555.00 L137.00,550.40 M213.00,550.40 L213.00,555.00 L214.20,555.00 L214.20,550.40 M236.00,550.40 L236.00,555.00 L240.00,555.00 L240.00,550.40 M275.50,550.40 L275.50,555.00 L280.00,555.00 L280.00,550.40 M414.20,550.40 L414.20,555.50 L417.50,555.50 L417.50,550.40 M437.20,550.40 L437.20,555.50 L438.20,555.50 L438.20,550.40 M446.00,550.40 L446.00,555.50 L447.00,555.50 L447.00,550.40 M454.50,550.40 L454.50,555.50 L455.90,555.50 L455.90,550.40 M461.20,550.40 L461.20,555.50 L462.60,555.50 L462.60,550.40" fill="none" stroke="#6d3cc6" stroke-width="1.2"/>
<line x1="51.5" y1="550.4" x2="500.6" y2="550.4" stroke="#1c1850" stroke-width="1.5"/>
<rect x="440.4" y="546.0" width="4.0" height="4.4" fill="#6d3cc6"/>
<g stroke="#3a8a3a" stroke-width="1.05" fill="none"><line x1="144.80" y1="480.0" x2="151.40" y2="480.0"/><line x1="146.10" y1="477.60" x2="150.10" y2="482.40"/><line x1="146.10" y1="482.40" x2="150.10" y2="477.60"/></g>
<g stroke="#3a8a3a" stroke-width="1.05" fill="none"><line x1="340.50" y1="498.8" x2="347.10" y2="498.8"/><line x1="341.80" y1="496.40" x2="345.80" y2="501.20"/><line x1="341.80" y1="501.20" x2="345.80" y2="496.40"/></g>
<g stroke="#3a8a3a" stroke-width="1.05" fill="none"><line x1="431.00" y1="476.6" x2="437.60" y2="476.6"/><line x1="432.30" y1="474.20" x2="436.30" y2="479.00"/><line x1="432.30" y1="479.00" x2="436.30" y2="474.20"/></g>
<g stroke="#3a8a3a" stroke-width="1.05" fill="none"><line x1="50.70" y1="594.5" x2="57.30" y2="594.5"/><line x1="52.00" y1="592.10" x2="56.00" y2="596.90"/><line x1="52.00" y1="596.90" x2="56.00" y2="592.10"/></g>
<line x1="47.7" y1="456.3" x2="47.7" y2="636.3" stroke="#000" stroke-width="1.5"/>
<line x1="43.1" y1="468.0" x2="47.7" y2="468.0" stroke="#000" stroke-width="1.3"/>
<text transform="translate(38.7,471.50) scale(0.94,1)" x="0" y="0" font-size="8.4" text-anchor="end" fill="#000" stroke="#000" stroke-width="0.1">40%</text>
<line x1="43.1" y1="488.52" x2="47.7" y2="488.52" stroke="#000" stroke-width="1.3"/>
<text transform="translate(38.7,492.02) scale(0.94,1)" x="0" y="0" font-size="8.4" text-anchor="end" fill="#000" stroke="#000" stroke-width="0.1">30%</text>
<line x1="43.1" y1="509.04" x2="47.7" y2="509.04" stroke="#000" stroke-width="1.3"/>
<text transform="translate(38.7,512.54) scale(0.94,1)" x="0" y="0" font-size="8.4" text-anchor="end" fill="#000" stroke="#000" stroke-width="0.1">20%</text>
<line x1="43.1" y1="529.56" x2="47.7" y2="529.56" stroke="#000" stroke-width="1.3"/>
<text transform="translate(38.7,533.06) scale(0.94,1)" x="0" y="0" font-size="8.4" text-anchor="end" fill="#000" stroke="#000" stroke-width="0.1">10%</text>
<line x1="43.1" y1="550.08" x2="47.7" y2="550.08" stroke="#000" stroke-width="1.3"/>
<text transform="translate(38.7,553.58) scale(0.94,1)" x="0" y="0" font-size="8.4" text-anchor="end" fill="#000" stroke="#000" stroke-width="0.1">0%</text>
<line x1="43.1" y1="570.6" x2="47.7" y2="570.6" stroke="#000" stroke-width="1.3"/>
<text transform="translate(38.7,574.10) scale(0.94,1)" x="0" y="0" font-size="8.4" text-anchor="end" fill="#000" stroke="#000" stroke-width="0.1">10%</text>
<line x1="43.1" y1="591.12" x2="47.7" y2="591.12" stroke="#000" stroke-width="1.3"/>
<text transform="translate(38.7,594.62) scale(0.94,1)" x="0" y="0" font-size="8.4" text-anchor="end" fill="#000" stroke="#000" stroke-width="0.1">20%</text>
<line x1="43.1" y1="611.64" x2="47.7" y2="611.64" stroke="#000" stroke-width="1.3"/>
<text transform="translate(38.7,615.14) scale(0.94,1)" x="0" y="0" font-size="8.4" text-anchor="end" fill="#000" stroke="#000" stroke-width="0.1">30%</text>
<line x1="43.1" y1="632.16" x2="47.7" y2="632.16" stroke="#000" stroke-width="1.3"/>
<text transform="translate(38.7,635.66) scale(0.94,1)" x="0" y="0" font-size="8.4" text-anchor="end" fill="#000" stroke="#000" stroke-width="0.1">40%</text>
<line x1="47.0" y1="636.3" x2="509.0" y2="636.3" stroke="#000" stroke-width="1.5"/>
<line x1="69.00" y1="636.3" x2="69.00" y2="640.70" stroke="#000" stroke-width="1.2"/>
<text x="69.00" y="650.9" font-size="7.3" text-anchor="middle" fill="#000" stroke="#000" stroke-width="0.15">1</text>
<line x1="105.25" y1="636.3" x2="105.25" y2="640.70" stroke="#000" stroke-width="1.2"/>
<text x="105.25" y="650.9" font-size="7.3" text-anchor="middle" fill="#000" stroke="#000" stroke-width="0.15">2</text>
<line x1="137.25" y1="636.3" x2="137.25" y2="640.70" stroke="#000" stroke-width="1.2"/>
<text x="137.25" y="650.9" font-size="7.3" text-anchor="middle" fill="#000" stroke="#000" stroke-width="0.15">3</text>
<line x1="166.60" y1="636.3" x2="166.60" y2="640.70" stroke="#000" stroke-width="1.2"/>
<text x="166.60" y="650.9" font-size="7.3" text-anchor="middle" fill="#000" stroke="#000" stroke-width="0.15">4</text>
<line x1="192.50" y1="636.3" x2="192.50" y2="640.70" stroke="#000" stroke-width="1.2"/>
<text x="192.50" y="650.9" font-size="7.3" text-anchor="middle" fill="#000" stroke="#000" stroke-width="0.15">5</text>
<line x1="218.00" y1="636.3" x2="218.00" y2="640.70" stroke="#000" stroke-width="1.2"/>
<text x="218.00" y="650.9" font-size="7.3" text-anchor="middle" fill="#000" stroke="#000" stroke-width="0.15">6</text>
<line x1="240.75" y1="636.3" x2="240.75" y2="640.70" stroke="#000" stroke-width="1.2"/>
<text x="240.75" y="650.9" font-size="7.3" text-anchor="middle" fill="#000" stroke="#000" stroke-width="0.15">7</text>
<line x1="263.75" y1="636.3" x2="263.75" y2="640.70" stroke="#000" stroke-width="1.2"/>
<text x="263.75" y="650.9" font-size="7.3" text-anchor="middle" fill="#000" stroke="#000" stroke-width="0.15">8</text>
<line x1="284.25" y1="636.3" x2="284.25" y2="640.70" stroke="#000" stroke-width="1.2"/>
<text x="284.25" y="650.9" font-size="7.3" text-anchor="middle" fill="#000" stroke="#000" stroke-width="0.15">9</text>
<line x1="305.50" y1="636.3" x2="305.50" y2="640.70" stroke="#000" stroke-width="1.2"/>
<text x="305.50" y="650.9" font-size="7.3" text-anchor="middle" fill="#000" stroke="#000" stroke-width="0.15">10</text>
<line x1="324.50" y1="636.3" x2="324.50" y2="640.70" stroke="#000" stroke-width="1.2"/>
<text x="324.50" y="650.9" font-size="7.3" text-anchor="middle" fill="#000" stroke="#000" stroke-width="0.15">11</text>
<line x1="343.25" y1="636.3" x2="343.25" y2="640.70" stroke="#000" stroke-width="1.2"/>
<text x="343.25" y="650.9" font-size="7.3" text-anchor="middle" fill="#000" stroke="#000" stroke-width="0.15">12</text>
<line x1="362.25" y1="636.3" x2="362.25" y2="640.70" stroke="#000" stroke-width="1.2"/>
<text x="362.25" y="650.9" font-size="7.3" text-anchor="middle" fill="#000" stroke="#000" stroke-width="0.15">13</text>
<line x1="378.10" y1="636.3" x2="378.10" y2="640.70" stroke="#000" stroke-width="1.2"/>
<text x="378.10" y="650.9" font-size="7.3" text-anchor="middle" fill="#000" stroke="#000" stroke-width="0.15">14</text>
<line x1="393.10" y1="636.3" x2="393.10" y2="640.70" stroke="#000" stroke-width="1.2"/>
<text x="393.10" y="650.9" font-size="7.3" text-anchor="middle" fill="#000" stroke="#000" stroke-width="0.15">15</text>
<line x1="406.90" y1="636.3" x2="406.90" y2="640.70" stroke="#000" stroke-width="1.2"/>
<text x="406.90" y="650.9" font-size="7.3" text-anchor="middle" fill="#000" stroke="#000" stroke-width="0.15">16</text>
<line x1="419.10" y1="636.3" x2="419.10" y2="640.70" stroke="#000" stroke-width="1.2"/>
<text x="419.10" y="650.9" font-size="7.3" text-anchor="middle" fill="#000" stroke="#000" stroke-width="0.15">17</text>
<line x1="430.90" y1="636.3" x2="430.90" y2="640.70" stroke="#000" stroke-width="1.2"/>
<text x="430.90" y="650.9" font-size="7.3" text-anchor="middle" fill="#000" stroke="#000" stroke-width="0.15">18</text>
<line x1="440.60" y1="636.3" x2="440.60" y2="640.70" stroke="#000" stroke-width="1.2"/>
<text x="440.60" y="659.6" font-size="7.3" text-anchor="middle" fill="#000" stroke="#000" stroke-width="0.15">19</text>
<line x1="450.00" y1="636.3" x2="450.00" y2="640.70" stroke="#000" stroke-width="1.2"/>
<text x="450.00" y="650.9" font-size="7.3" text-anchor="middle" fill="#000" stroke="#000" stroke-width="0.15">20</text>
<line x1="458.70" y1="636.3" x2="458.70" y2="640.70" stroke="#000" stroke-width="1.2"/>
<text x="458.70" y="659.6" font-size="7.3" text-anchor="middle" fill="#000" stroke="#000" stroke-width="0.15">21</text>
<line x1="466.00" y1="636.3" x2="466.00" y2="640.70" stroke="#000" stroke-width="1.2"/>
<text x="466.00" y="650.9" font-size="7.3" text-anchor="middle" fill="#000" stroke="#000" stroke-width="0.15">22</text>
<line x1="481.00" y1="636.3" x2="481.00" y2="640.70" stroke="#000" stroke-width="1.2"/>
<text x="481.00" y="650.9" font-size="7.3" text-anchor="middle" fill="#000" stroke="#000" stroke-width="0.15">X</text>
<line x1="496.20" y1="636.3" x2="496.20" y2="640.70" stroke="#000" stroke-width="1.2"/>
<text x="496.20" y="650.9" font-size="7.3" text-anchor="middle" fill="#000" stroke="#000" stroke-width="0.15">Y</text>
<text transform="translate(9.5,672.6) scale(0.93,1)" x="0" y="0" font-size="16.5" font-weight="bold" fill="#000" stroke="#000" stroke-width="0.35">D</text>
<rect x="50.3" y="680.2" width="450.30" height="157.80" fill="#dddddd"/>
<rect x="50.3" y="696.97" width="450.30" height="1.0" fill="#ebecec"/>
<rect x="50.3" y="714.14" width="450.30" height="1.0" fill="#ebecec"/>
<rect x="50.3" y="731.31" width="450.30" height="1.0" fill="#ebecec"/>
<rect x="50.3" y="748.48" width="450.30" height="1.0" fill="#ebecec"/>
<rect x="50.3" y="765.65" width="450.30" height="1.0" fill="#ebecec"/>
<rect x="50.3" y="782.82" width="450.30" height="1.0" fill="#ebecec"/>
<rect x="50.3" y="799.99" width="450.30" height="1.0" fill="#ebecec"/>
<rect x="50.3" y="817.16" width="450.30" height="1.0" fill="#ebecec"/>
<rect x="50.3" y="834.33" width="450.30" height="1.0" fill="#ebecec"/>
<rect x="50.30" y="680.2" width="37.45" height="157.80" fill="#a8b0b9"/>
<rect x="50.30" y="696.97" width="37.45" height="1.0" fill="#b2cdd2"/>
<rect x="50.30" y="714.14" width="37.45" height="1.0" fill="#b2cdd2"/>
<rect x="50.30" y="731.31" width="37.45" height="1.0" fill="#b2cdd2"/>
<rect x="50.30" y="748.48" width="37.45" height="1.0" fill="#b2cdd2"/>
<rect x="50.30" y="765.65" width="37.45" height="1.0" fill="#b2cdd2"/>
<rect x="50.30" y="782.82" width="37.45" height="1.0" fill="#b2cdd2"/>
<rect x="50.30" y="799.99" width="37.45" height="1.0" fill="#b2cdd2"/>
<rect x="50.30" y="817.16" width="37.45" height="1.0" fill="#b2cdd2"/>
<rect x="50.30" y="834.33" width="37.45" height="1.0" fill="#b2cdd2"/>
<rect x="123.10" y="680.2" width="29.15" height="157.80" fill="#a8b0b9"/>
<rect x="123.10" y="696.97" width="29.15" height="1.0" fill="#b2cdd2"/>
<rect x="123.10" y="714.14" width="29.15" height="1.0" fill="#b2cdd2"/>
<rect x="123.10" y="731.31" width="29.15" height="1.0" fill="#b2cdd2"/>
<rect x="123.10" y="748.48" width="29.15" height="1.0" fill="#b2cdd2"/>
<rect x="123.10" y="765.65" width="29.15" height="1.0" fill="#b2cdd2"/>
<rect x="123.10" y="782.82" width="29.15" height="1.0" fill="#b2cdd2"/>
<rect x="123.10" y="799.99" width="29.15" height="1.0" fill="#b2cdd2"/>
<rect x="123.10" y="817.16" width="29.15" height="1.0" fill="#b2cdd2"/>
<rect x="123.10" y="834.33" width="29.15" height="1.0" fill="#b2cdd2"/>
<rect x="179.25" y="680.2" width="26.25" height="157.80" fill="#a8b0b9"/>
<rect x="179.25" y="696.97" width="26.25" height="1.0" fill="#b2cdd2"/>
<rect x="179.25" y="714.14" width="26.25" height="1.0" fill="#b2cdd2"/>
<rect x="179.25" y="731.31" width="26.25" height="1.0" fill="#b2cdd2"/>
<rect x="179.25" y="748.48" width="26.25" height="1.0" fill="#b2cdd2"/>
<rect x="179.25" y="765.65" width="26.25" height="1.0" fill="#b2cdd2"/>
<rect x="179.25" y="782.82" width="26.25" height="1.0" fill="#b2cdd2"/>
<rect x="179.25" y="799.99" width="26.25" height="1.0" fill="#b2cdd2"/>
<rect x="179.25" y="817.16" width="26.25" height="1.0" fill="#b2cdd2"/>
<rect x="179.25" y="834.33" width="26.25" height="1.0" fill="#b2cdd2"/>
<rect x="230.50" y="680.2" width="23.25" height="157.80" fill="#a8b0b9"/>
<rect x="230.50" y="696.97" width="23.25" height="1.0" fill="#b2cdd2"/>
<rect x="230.50" y="714.14" width="23.25" height="1.0" fill="#b2cdd2"/>
<rect x="230.50" y="731.31" width="23.25" height="1.0" fill="#b2cdd2"/>
<rect x="230.50" y="748.48" width="23.25" height="1.0" fill="#b2cdd2"/>
<rect x="230.50" y="765.65" width="23.25" height="1.0" fill="#b2cdd2"/>
<rect x="230.50" y="782.82" width="23.25" height="1.0" fill="#b2cdd2"/>
<rect x="230.50" y="799.99" width="23.25" height="1.0" fill="#b2cdd2"/>
<rect x="230.50" y="817.16" width="23.25" height="1.0" fill="#b2cdd2"/>
<rect x="230.50" y="834.33" width="23.25" height="1.0" fill="#b2cdd2"/>
<rect x="275.00" y="680.2" width="20.50" height="157.80" fill="#a8b0b9"/>
<rect x="275.00" y="696.97" width="20.50" height="1.0" fill="#b2cdd2"/>
<rect x="275.00" y="714.14" width="20.50" height="1.0" fill="#b2cdd2"/>
<rect x="275.00" y="731.31" width="20.50" height="1.0" fill="#b2cdd2"/>
<rect x="275.00" y="748.48" width="20.50" height="1.0" fill="#b2cdd2"/>
<rect x="275.00" y="765.65" width="20.50" height="1.0" fill="#b2cdd2"/>
<rect x="275.00" y="782.82" width="20.50" height="1.0" fill="#b2cdd2"/>
<rect x="275.00" y="799.99" width="20.50" height="1.0" fill="#b2cdd2"/>
<rect x="275.00" y="817.16" width="20.50" height="1.0" fill="#b2cdd2"/>
<rect x="275.00" y="834.33" width="20.50" height="1.0" fill="#b2cdd2"/>
<rect x="315.50" y="680.2" width="19.50" height="157.80" fill="#a8b0b9"/>
<rect x="315.50" y="696.97" width="19.50" height="1.0" fill="#b2cdd2"/>
<rect x="315.50" y="714.14" width="19.50" height="1.0" fill="#b2cdd2"/>
<rect x="315.50" y="731.31" width="19.50" height="1.0" fill="#b2cdd2"/>
<rect x="315.50" y="748.48" width="19.50" height="1.0" fill="#b2cdd2"/>
<rect x="315.50" y="765.65" width="19.50" height="1.0" fill="#b2cdd2"/>
<rect x="315.50" y="782.82" width="19.50" height="1.0" fill="#b2cdd2"/>
<rect x="315.50" y="799.99" width="19.50" height="1.0" fill="#b2cdd2"/>
<rect x="315.50" y="817.16" width="19.50" height="1.0" fill="#b2cdd2"/>
<rect x="315.50" y="834.33" width="19.50" height="1.0" fill="#b2cdd2"/>
<rect x="354.40" y="680.2" width="17.50" height="157.80" fill="#a8b0b9"/>
<rect x="354.40" y="696.97" width="17.50" height="1.0" fill="#b2cdd2"/>
<rect x="354.40" y="714.14" width="17.50" height="1.0" fill="#b2cdd2"/>
<rect x="354.40" y="731.31" width="17.50" height="1.0" fill="#b2cdd2"/>
<rect x="354.40" y="748.48" width="17.50" height="1.0" fill="#b2cdd2"/>
<rect x="354.40" y="765.65" width="17.50" height="1.0" fill="#b2cdd2"/>
<rect x="354.40" y="782.82" width="17.50" height="1.0" fill="#b2cdd2"/>
<rect x="354.40" y="799.99" width="17.50" height="1.0" fill="#b2cdd2"/>
<rect x="354.40" y="817.16" width="17.50" height="1.0" fill="#b2cdd2"/>
<rect x="354.40" y="834.33" width="17.50" height="1.0" fill="#b2cdd2"/>
<rect x="386.25" y="680.2" width="14.95" height="157.80" fill="#a8b0b9"/>
<rect x="386.25" y="696.97" width="14.95" height="1.0" fill="#b2cdd2"/>
<rect x="386.25" y="714.14" width="14.95" height="1.0" fill="#b2cdd2"/>
<rect x="386.25" y="731.31" width="14.95" height="1.0" fill="#b2cdd2"/>
<rect x="386.25" y="748.48" width="14.95" height="1.0" fill="#b2cdd2"/>
<rect x="386.25" y="765.65" width="14.95" height="1.0" fill="#b2cdd2"/>
<rect x="386.25" y="782.82" width="14.95" height="1.0" fill="#b2cdd2"/>
<rect x="386.25" y="799.99" width="14.95" height="1.0" fill="#b2cdd2"/>
<rect x="386.25" y="817.16" width="14.95" height="1.0" fill="#b2cdd2"/>
<rect x="386.25" y="834.33" width="14.95" height="1.0" fill="#b2cdd2"/>
<rect x="414.20" y="680.2" width="12.60" height="157.80" fill="#a8b0b9"/>
<rect x="414.20" y="696.97" width="12.60" height="1.0" fill="#b2cdd2"/>
<rect x="414.20" y="714.14" width="12.60" height="1.0" fill="#b2cdd2"/>
<rect x="414.20" y="731.31" width="12.60" height="1.0" fill="#b2cdd2"/>
<rect x="414.20" y="748.48" width="12.60" height="1.0" fill="#b2cdd2"/>
<rect x="414.20" y="765.65" width="12.60" height="1.0" fill="#b2cdd2"/>
<rect x="414.20" y="782.82" width="12.60" height="1.0" fill="#b2cdd2"/>
<rect x="414.20" y="799.99" width="12.60" height="1.0" fill="#b2cdd2"/>
<rect x="414.20" y="817.16" width="12.60" height="1.0" fill="#b2cdd2"/>
<rect x="414.20" y="834.33" width="12.60" height="1.0" fill="#b2cdd2"/>
<rect x="437.10" y="680.2" width="9.40" height="157.80" fill="#a8b0b9"/>
<rect x="437.10" y="696.97" width="9.40" height="1.0" fill="#b2cdd2"/>
<rect x="437.10" y="714.14" width="9.40" height="1.0" fill="#b2cdd2"/>
<rect x="437.10" y="731.31" width="9.40" height="1.0" fill="#b2cdd2"/>
<rect x="437.10" y="748.48" width="9.40" height="1.0" fill="#b2cdd2"/>
<rect x="437.10" y="765.65" width="9.40" height="1.0" fill="#b2cdd2"/>
<rect x="437.10" y="782.82" width="9.40" height="1.0" fill="#b2cdd2"/>
<rect x="437.10" y="799.99" width="9.40" height="1.0" fill="#b2cdd2"/>
<rect x="437.10" y="817.16" width="9.40" height="1.0" fill="#b2cdd2"/>
<rect x="437.10" y="834.33" width="9.40" height="1.0" fill="#b2cdd2"/>
<rect x="455.00" y="680.2" width="8.00" height="157.80" fill="#a8b0b9"/>
<rect x="455.00" y="696.97" width="8.00" height="1.0" fill="#b2cdd2"/>
<rect x="455.00" y="714.14" width="8.00" height="1.0" fill="#b2cdd2"/>
<rect x="455.00" y="731.31" width="8.00" height="1.0" fill="#b2cdd2"/>
<rect x="455.00" y="748.48" width="8.00" height="1.0" fill="#b2cdd2"/>
<rect x="455.00" y="765.65" width="8.00" height="1.0" fill="#b2cdd2"/>
<rect x="455.00" y="782.82" width="8.00" height="1.0" fill="#b2cdd2"/>
<rect x="455.00" y="799.99" width="8.00" height="1.0" fill="#b2cdd2"/>
<rect x="455.00" y="817.16" width="8.00" height="1.0" fill="#b2cdd2"/>
<rect x="455.00" y="834.33" width="8.00" height="1.0" fill="#b2cdd2"/>
<rect x="468.80" y="680.2" width="24.20" height="157.80" fill="#a8b0b9"/>
<rect x="468.80" y="696.97" width="24.20" height="1.0" fill="#b2cdd2"/>
<rect x="468.80" y="714.14" width="24.20" height="1.0" fill="#b2cdd2"/>
<rect x="468.80" y="731.31" width="24.20" height="1.0" fill="#b2cdd2"/>
<rect x="468.80" y="748.48" width="24.20" height="1.0" fill="#b2cdd2"/>
<rect x="468.80" y="765.65" width="24.20" height="1.0" fill="#b2cdd2"/>
<rect x="468.80" y="782.82" width="24.20" height="1.0" fill="#b2cdd2"/>
<rect x="468.80" y="799.99" width="24.20" height="1.0" fill="#b2cdd2"/>
<rect x="468.80" y="817.16" width="24.20" height="1.0" fill="#b2cdd2"/>
<rect x="468.80" y="834.33" width="24.20" height="1.0" fill="#b2cdd2"/>
<rect x="88.25" y="680.2" width="1" height="157.80" fill="#f0f1f1"/>
<rect x="121.60" y="680.2" width="1" height="157.80" fill="#f0f1f1"/>
<rect x="152.75" y="680.2" width="1" height="157.80" fill="#f0f1f1"/>
<rect x="177.75" y="680.2" width="1" height="157.80" fill="#f0f1f1"/>
<rect x="206.00" y="680.2" width="1" height="157.80" fill="#f0f1f1"/>
<rect x="229.00" y="680.2" width="1" height="157.80" fill="#f0f1f1"/>
<rect x="254.25" y="680.2" width="1" height="157.80" fill="#f0f1f1"/>
<rect x="273.50" y="680.2" width="1" height="157.80" fill="#f0f1f1"/>
<rect x="296.00" y="680.2" width="1" height="157.80" fill="#f0f1f1"/>
<rect x="314.00" y="680.2" width="1" height="157.80" fill="#f0f1f1"/>
<rect x="335.50" y="680.2" width="1" height="157.80" fill="#f0f1f1"/>
<rect x="352.90" y="680.2" width="1" height="157.80" fill="#f0f1f1"/>
<rect x="372.40" y="680.2" width="1" height="157.80" fill="#f0f1f1"/>
<rect x="384.75" y="680.2" width="1" height="157.80" fill="#f0f1f1"/>
<rect x="401.70" y="680.2" width="1" height="157.80" fill="#f0f1f1"/>
<rect x="412.70" y="680.2" width="1" height="157.80" fill="#f0f1f1"/>
<rect x="427.30" y="680.2" width="1" height="157.80" fill="#f0f1f1"/>
<rect x="435.60" y="680.2" width="1" height="157.80" fill="#f0f1f1"/>
<rect x="447.00" y="680.2" width="1" height="157.80" fill="#f0f1f1"/>
<rect x="453.50" y="680.2" width="1" height="157.80" fill="#f0f1f1"/>
<rect x="463.50" y="680.2" width="1" height="157.80" fill="#f0f1f1"/>
<rect x="467.30" y="680.2" width="1" height="157.80" fill="#f0f1f1"/>
<rect x="493.50" y="680.2" width="1" height="157.80" fill="#f0f1f1"/>
<line x1="69.50" y1="680.2" x2="69.50" y2="838.0" stroke="#2e6a7c" stroke-width="1.0" stroke-dasharray="1.2 1.2"/>
<line x1="101.50" y1="680.2" x2="101.50" y2="838.0" stroke="#585858" stroke-width="1.0" stroke-dasharray="1.1 1.3"/>
<line x1="136.50" y1="680.2" x2="136.50" y2="838.0" stroke="#2e6a7c" stroke-width="1.0" stroke-dasharray="1.2 1.2"/>
<line x1="159.50" y1="680.2" x2="159.50" y2="838.0" stroke="#585858" stroke-width="1.0" stroke-dasharray="1.1 1.3"/>
<line x1="186.50" y1="680.2" x2="186.50" y2="838.0" stroke="#2e6a7c" stroke-width="1.0" stroke-dasharray="1.2 1.2"/>
<line x1="214.50" y1="680.2" x2="214.50" y2="838.0" stroke="#585858" stroke-width="1.0" stroke-dasharray="1.1 1.3"/>
<line x1="239.50" y1="680.2" x2="239.50" y2="838.0" stroke="#2e6a7c" stroke-width="1.0" stroke-dasharray="1.2 1.2"/>
<line x1="260.50" y1="680.2" x2="260.50" y2="838.0" stroke="#585858" stroke-width="1.0" stroke-dasharray="1.1 1.3"/>
<line x1="282.50" y1="680.2" x2="282.50" y2="838.0" stroke="#2e6a7c" stroke-width="1.0" stroke-dasharray="1.2 1.2"/>
<line x1="301.50" y1="680.2" x2="301.50" y2="838.0" stroke="#585858" stroke-width="1.0" stroke-dasharray="1.1 1.3"/>
<line x1="323.50" y1="680.2" x2="323.50" y2="838.0" stroke="#2e6a7c" stroke-width="1.0" stroke-dasharray="1.2 1.2"/>
<line x1="340.50" y1="680.2" x2="340.50" y2="838.0" stroke="#585858" stroke-width="1.0" stroke-dasharray="1.1 1.3"/>
<line x1="356.50" y1="680.2" x2="356.50" y2="838.0" stroke="#2e6a7c" stroke-width="1.0" stroke-dasharray="1.2 1.2"/>
<line x1="373.50" y1="680.2" x2="373.50" y2="838.0" stroke="#585858" stroke-width="1.0" stroke-dasharray="1.1 1.3"/>
<line x1="389.50" y1="680.2" x2="389.50" y2="838.0" stroke="#2e6a7c" stroke-width="1.0" stroke-dasharray="1.2 1.2"/>
<line x1="406.50" y1="680.2" x2="406.50" y2="838.0" stroke="#585858" stroke-width="1.0" stroke-dasharray="1.1 1.3"/>
<line x1="418.50" y1="680.2" x2="418.50" y2="838.0" stroke="#2e6a7c" stroke-width="1.0" stroke-dasharray="1.2 1.2"/>
<line x1="428.50" y1="680.2" x2="428.50" y2="838.0" stroke="#585858" stroke-width="1.0" stroke-dasharray="1.1 1.3"/>
<line x1="441.50" y1="680.2" x2="441.50" y2="838.0" stroke="#2e6a7c" stroke-width="1.0" stroke-dasharray="1.2 1.2"/>
<line x1="450.50" y1="680.2" x2="450.50" y2="838.0" stroke="#585858" stroke-width="1.0" stroke-dasharray="1.1 1.3"/>
<line x1="457.50" y1="680.2" x2="457.50" y2="838.0" stroke="#2e6a7c" stroke-width="1.0" stroke-dasharray="1.2 1.2"/>
<line x1="464.50" y1="680.2" x2="464.50" y2="838.0" stroke="#585858" stroke-width="1.0" stroke-dasharray="1.1 1.3"/>
<line x1="478.50" y1="680.2" x2="478.50" y2="838.0" stroke="#2e6a7c" stroke-width="1.0" stroke-dasharray="1.2 1.2"/>
<line x1="494.50" y1="680.2" x2="494.50" y2="838.0" stroke="#585858" stroke-width="1.0" stroke-dasharray="1.1 1.3"/>
<line x1="87.75" y1="680.2" x2="87.75" y2="838.0" stroke="#3e5762" stroke-width="1"/>
<line x1="123.10" y1="680.2" x2="123.10" y2="838.0" stroke="#3e5762" stroke-width="1"/>
<line x1="152.25" y1="680.2" x2="152.25" y2="838.0" stroke="#3e5762" stroke-width="1"/>
<line x1="179.25" y1="680.2" x2="179.25" y2="838.0" stroke="#3e5762" stroke-width="1"/>
<line x1="205.50" y1="680.2" x2="205.50" y2="838.0" stroke="#3e5762" stroke-width="1"/>
<line x1="230.50" y1="680.2" x2="230.50" y2="838.0" stroke="#3e5762" stroke-width="1"/>
<line x1="253.75" y1="680.2" x2="253.75" y2="838.0" stroke="#3e5762" stroke-width="1"/>
<line x1="275.00" y1="680.2" x2="275.00" y2="838.0" stroke="#3e5762" stroke-width="1"/>
<line x1="295.50" y1="680.2" x2="295.50" y2="838.0" stroke="#3e5762" stroke-width="1"/>
<line x1="315.50" y1="680.2" x2="315.50" y2="838.0" stroke="#3e5762" stroke-width="1"/>
<line x1="335.00" y1="680.2" x2="335.00" y2="838.0" stroke="#3e5762" stroke-width="1"/>
<line x1="354.40" y1="680.2" x2="354.40" y2="838.0" stroke="#3e5762" stroke-width="1"/>
<line x1="371.90" y1="680.2" x2="371.90" y2="838.0" stroke="#3e5762" stroke-width="1"/>
<line x1="386.25" y1="680.2" x2="386.25" y2="838.0" stroke="#3e5762" stroke-width="1"/>
<line x1="401.20" y1="680.2" x2="401.20" y2="838.0" stroke="#3e5762" stroke-width="1"/>
<line x1="414.20" y1="680.2" x2="414.20" y2="838.0" stroke="#3e5762" stroke-width="1"/>
<line x1="426.80" y1="680.2" x2="426.80" y2="838.0" stroke="#3e5762" stroke-width="1"/>
<line x1="437.10" y1="680.2" x2="437.10" y2="838.0" stroke="#3e5762" stroke-width="1"/>
<line x1="446.50" y1="680.2" x2="446.50" y2="838.0" stroke="#3e5762" stroke-width="1"/>
<line x1="455.00" y1="680.2" x2="455.00" y2="838.0" stroke="#3e5762" stroke-width="1"/>
<line x1="463.00" y1="680.2" x2="463.00" y2="838.0" stroke="#3e5762" stroke-width="1"/>
<line x1="468.80" y1="680.2" x2="468.80" y2="838.0" stroke="#3e5762" stroke-width="1"/>
<line x1="493.00" y1="680.2" x2="493.00" y2="838.0" stroke="#3e5762" stroke-width="1"/>
<rect x="50.30" y="680.2" width="1.3" height="157.80" fill="#9fbcc2" opacity="0.8"/>
<clipPath id="cd"><rect x="51.5" y="680.2" width="449.10" height="157.80"/></clipPath>
<g clip-path="url(#cd)">
<rect x="50.3" y="680.2" width="450.30" height="1.0" fill="#6470b0" opacity="0.85"/>
<path d="M51.00,711.60 L53.80,711.60 L53.80,696.30 L55.30,696.30 L55.30,688.70 L57.30,688.70 L57.30,703.00 L58.80,703.00 L58.80,688.70 L64.00,688.70 L64.00,688.00 L66.00,688.00 L66.00,679.20 L113.00,679.20 L113.00,696.00 L114.00,696.00 L114.00,679.20 L118.00,679.20 L118.00,688.00 L120.00,688.00 L120.00,679.20 L124.00,679.20 L124.00,688.00 L130.00,688.00 L130.00,679.20 L146.00,679.20 L146.00,688.00 L146.80,688.00 L146.80,679.20 L190.00,679.20 L190.00,688.00 L196.00,688.00 L196.00,679.20 L210.00,679.20 L210.00,688.00 L212.00,688.00 L212.00,679.20 L242.00,679.20 L242.00,688.00 L242.80,688.00 L242.80,679.20 L276.00,679.20 L276.00,695.00 L277.00,695.00 L277.00,702.50 L279.00,702.50 L279.00,695.00 L280.00,695.00 L280.00,679.20 L282.00,679.20 L282.00,695.00 L288.00,695.00 L288.00,679.20 L297.00,679.20 L297.00,688.00 L298.00,688.00 L298.00,679.20 L300.00,679.20 L300.00,695.00 L303.00,695.00 L303.00,679.20 L327.00,679.20 L327.00,691.00 L329.50,691.00 L329.50,695.00 L330.00,695.00 L330.00,691.00 L332.00,691.00 L332.00,679.20 L342.00,679.20 L342.00,688.00 L344.00,688.00 L344.00,679.20 L395.00,679.20 L395.00,688.00 L398.00,688.00 L398.00,679.20 L447.00,679.20 L447.00,688.00 L449.00,688.00 L449.00,695.00 L450.00,695.00 L450.00,688.00 L451.00,688.00 L451.00,679.20 L455.00,679.20 L455.00,688.00 L457.00,688.00 L457.00,679.20 L500.60,679.20" fill="none" stroke="#7a2dd0" stroke-width="1.45"/>
<path d="M51.60,818.50 L52.00,818.50 L52.00,787.00 L52.50,787.00 L52.50,762.00 L53.20,762.00 L53.20,745.00 L53.60,745.00 L53.60,737.50 L55.40,737.50 L55.40,721.00 L57.30,721.00 L57.30,717.00 L61.10,717.00 L61.10,713.30 L62.20,713.30 L62.20,696.30 L63.70,696.30 L63.70,688.70 L66.20,688.70 L66.20,684.00 L68.30,684.00 L68.30,679.20 L70.90,679.20 L70.90,688.00 L72.30,688.00 L72.30,704.40 L76.00,704.40 L76.00,712.90 L78.00,712.90 L78.00,704.40 L87.40,704.40 L87.40,679.20 L88.00,679.20 L88.00,688.00 L92.00,688.00 L92.00,679.20 L98.00,679.20 L98.00,688.00 L104.00,688.00 L104.00,679.20 L110.00,679.20 L110.00,688.00 L112.00,688.00 L112.00,679.20 L116.00,679.20 L116.00,688.00 L122.50,688.00 L122.50,696.00 L124.00,696.00 L124.00,679.20 L153.00,679.20 L153.00,688.00 L157.00,688.00 L157.00,679.20 L160.00,679.20 L160.00,688.00 L161.00,688.00 L161.00,679.20 L166.00,679.20 L166.00,688.00 L167.00,688.00 L167.00,679.20 L168.00,679.20 L168.00,696.00 L171.00,696.00 L171.00,688.00 L176.00,688.00 L176.00,679.20 L180.00,679.20 L180.00,688.00 L184.00,688.00 L184.00,679.20 L186.00,679.20 L186.00,688.00 L190.00,688.00 L190.00,679.20 L196.00,679.20 L196.00,688.00 L200.00,688.00 L200.00,679.20 L204.00,679.20 L204.00,695.00 L208.00,695.00 L208.00,712.50 L210.00,712.50 L210.00,695.00 L212.00,695.00 L212.00,679.20 L218.00,679.20 L218.00,688.00 L221.00,688.00 L221.00,679.20 L224.00,679.20 L224.00,688.00 L228.00,688.00 L228.00,679.20 L231.00,679.20 L231.00,688.00 L234.00,688.00 L234.00,696.00 L236.00,696.00 L236.00,679.20 L250.00,679.20 L250.00,688.00 L253.00,688.00 L253.00,679.20 L257.00,679.20 L257.00,688.00 L259.00,688.00 L259.00,679.20 L275.00,679.20 L275.00,688.00 L313.00,688.00 L313.00,679.20 L315.00,679.20 L315.00,688.00 L322.00,688.00 L322.00,679.20 L323.00,679.20 L323.00,679.20 L348.00,679.20 L348.00,688.00 L352.00,688.00 L352.00,679.20 L364.00,679.20 L364.00,688.00 L365.00,688.00 L365.00,679.20 L373.00,679.20 L373.00,688.00 L377.00,688.00 L377.00,679.20 L386.00,679.20 L386.00,688.00 L387.00,688.00 L387.00,679.20 L400.00,679.20 L400.00,688.00 L402.00,688.00 L402.00,679.20 L409.00,679.20 L409.00,688.00 L412.00,688.00 L412.00,679.20 L414.00,679.20 L414.00,688.00 L416.00,688.00 L416.00,679.20 L418.00,679.20 L418.00,688.00 L420.00,688.00 L420.00,695.00 L426.00,695.00 L426.00,679.20 L438.00,679.20 L438.00,688.00 L440.00,688.00 L440.00,695.00 L441.00,695.00 L441.00,688.00 L445.00,688.00 L445.00,679.20 L452.00,679.20 L452.00,688.00 L455.00,688.00 L455.00,679.20 L461.00,679.20 L461.00,688.00 L463.00,688.00 L463.00,695.00 L465.00,695.00 L465.00,688.00 L467.00,688.00 L467.00,679.20 L500.60,679.20" fill="none" stroke="#1a3cb4" stroke-width="1.45"/>
<rect x="53.5" y="737.0" width="2.30" height="8.50" fill="#1a3cb4"/>
<rect x="57.3" y="713.3" width="3.80" height="7.70" fill="#1a3cb4"/>
<rect x="66.2" y="680.2" width="2.10" height="7.80" fill="#1a3cb4"/>
<rect x="57.3" y="688.7" width="1.40" height="14.30" fill="#7a2dd0"/>
<rect x="124.0" y="680.2" width="6.00" height="7.80" fill="#7a2dd0"/>
<rect x="76.0" y="704.4" width="2.00" height="8.50" fill="#1a3cb4"/>
</g>
<g stroke="#1f3f9f" stroke-width="1.05" fill="none"><line x1="50.10" y1="826.2" x2="56.70" y2="826.2"/><line x1="51.40" y1="823.80" x2="55.40" y2="828.60"/><line x1="51.40" y1="828.60" x2="55.40" y2="823.80"/></g>
<line x1="47.7" y1="673.3" x2="47.7" y2="838.8" stroke="#000" stroke-width="1.5"/>
<line x1="43.1" y1="680.0" x2="47.7" y2="680.0" stroke="#000" stroke-width="1.3"/>
<text transform="translate(38.7,683.50) scale(0.94,1)" x="0" y="0" font-size="8.4" text-anchor="end" fill="#000" stroke="#000" stroke-width="0.1">0%</text>
<line x1="43.1" y1="697.17" x2="47.7" y2="697.17" stroke="#000" stroke-width="1.3"/>
<text transform="translate(38.7,700.67) scale(0.94,1)" x="0" y="0" font-size="8.4" text-anchor="end" fill="#000" stroke="#000" stroke-width="0.1">5%</text>
<line x1="43.1" y1="714.34" x2="47.7" y2="714.34" stroke="#000" stroke-width="1.3"/>
<text transform="translate(38.7,717.84) scale(0.94,1)" x="0" y="0" font-size="8.4" text-anchor="end" fill="#000" stroke="#000" stroke-width="0.1">10%</text>
<line x1="43.1" y1="731.51" x2="47.7" y2="731.51" stroke="#000" stroke-width="1.3"/>
<text transform="translate(38.7,735.01) scale(0.94,1)" x="0" y="0" font-size="8.4" text-anchor="end" fill="#000" stroke="#000" stroke-width="0.1">15%</text>
<line x1="43.1" y1="748.6800000000001" x2="47.7" y2="748.6800000000001" stroke="#000" stroke-width="1.3"/>
<text transform="translate(38.7,752.18) scale(0.94,1)" x="0" y="0" font-size="8.4" text-anchor="end" fill="#000" stroke="#000" stroke-width="0.1">20%</text>
<line x1="43.1" y1="765.85" x2="47.7" y2="765.85" stroke="#000" stroke-width="1.3"/>
<text transform="translate(38.7,769.35) scale(0.94,1)" x="0" y="0" font-size="8.4" text-anchor="end" fill="#000" stroke="#000" stroke-width="0.1">25%</text>
<line x1="43.1" y1="783.02" x2="47.7" y2="783.02" stroke="#000" stroke-width="1.3"/>
<text transform="translate(38.7,786.52) scale(0.94,1)" x="0" y="0" font-size="8.4" text-anchor="end" fill="#000" stroke="#000" stroke-width="0.1">30%</text>
<line x1="43.1" y1="800.19" x2="47.7" y2="800.19" stroke="#000" stroke-width="1.3"/>
<text transform="translate(38.7,803.69) scale(0.94,1)" x="0" y="0" font-size="8.4" text-anchor="end" fill="#000" stroke="#000" stroke-width="0.1">35%</text>
<line x1="43.1" y1="817.36" x2="47.7" y2="817.36" stroke="#000" stroke-width="1.3"/>
<text transform="translate(38.7,820.86) scale(0.94,1)" x="0" y="0" font-size="8.4" text-anchor="end" fill="#000" stroke="#000" stroke-width="0.1">40%</text>
<line x1="43.1" y1="834.53" x2="47.7" y2="834.53" stroke="#000" stroke-width="1.3"/>
<text transform="translate(38.7,838.03) scale(0.94,1)" x="0" y="0" font-size="8.4" text-anchor="end" fill="#000" stroke="#000" stroke-width="0.1">45%</text>
<line x1="47.0" y1="838.6" x2="509.0" y2="838.6" stroke="#000" stroke-width="1.5"/>
<line x1="69.00" y1="838.6" x2="69.00" y2="843.00" stroke="#000" stroke-width="1.2"/>
<text x="69.00" y="852.8" font-size="7.3" text-anchor="middle" fill="#000" stroke="#000" stroke-width="0.15">1</text>
<line x1="105.25" y1="838.6" x2="105.25" y2="843.00" stroke="#000" stroke-width="1.2"/>
<text x="105.25" y="852.8" font-size="7.3" text-anchor="middle" fill="#000" stroke="#000" stroke-width="0.15">2</text>
<line x1="137.25" y1="838.6" x2="137.25" y2="843.00" stroke="#000" stroke-width="1.2"/>
<text x="137.25" y="852.8" font-size="7.3" text-anchor="middle" fill="#000" stroke="#000" stroke-width="0.15">3</text>
<line x1="166.60" y1="838.6" x2="166.60" y2="843.00" stroke="#000" stroke-width="1.2"/>
<text x="166.60" y="852.8" font-size="7.3" text-anchor="middle" fill="#000" stroke="#000" stroke-width="0.15">4</text>
<line x1="192.50" y1="838.6" x2="192.50" y2="843.00" stroke="#000" stroke-width="1.2"/>
<text x="192.50" y="852.8" font-size="7.3" text-anchor="middle" fill="#000" stroke="#000" stroke-width="0.15">5</text>
<line x1="218.00" y1="838.6" x2="218.00" y2="843.00" stroke="#000" stroke-width="1.2"/>
<text x="218.00" y="852.8" font-size="7.3" text-anchor="middle" fill="#000" stroke="#000" stroke-width="0.15">6</text>
<line x1="240.75" y1="838.6" x2="240.75" y2="843.00" stroke="#000" stroke-width="1.2"/>
<text x="240.75" y="852.8" font-size="7.3" text-anchor="middle" fill="#000" stroke="#000" stroke-width="0.15">7</text>
<line x1="263.75" y1="838.6" x2="263.75" y2="843.00" stroke="#000" stroke-width="1.2"/>
<text x="263.75" y="852.8" font-size="7.3" text-anchor="middle" fill="#000" stroke="#000" stroke-width="0.15">8</text>
<line x1="284.25" y1="838.6" x2="284.25" y2="843.00" stroke="#000" stroke-width="1.2"/>
<text x="284.25" y="852.8" font-size="7.3" text-anchor="middle" fill="#000" stroke="#000" stroke-width="0.15">9</text>
<line x1="305.50" y1="838.6" x2="305.50" y2="843.00" stroke="#000" stroke-width="1.2"/>
<text x="305.50" y="852.8" font-size="7.3" text-anchor="middle" fill="#000" stroke="#000" stroke-width="0.15">10</text>
<line x1="324.50" y1="838.6" x2="324.50" y2="843.00" stroke="#000" stroke-width="1.2"/>
<text x="324.50" y="852.8" font-size="7.3" text-anchor="middle" fill="#000" stroke="#000" stroke-width="0.15">11</text>
<line x1="343.25" y1="838.6" x2="343.25" y2="843.00" stroke="#000" stroke-width="1.2"/>
<text x="343.25" y="852.8" font-size="7.3" text-anchor="middle" fill="#000" stroke="#000" stroke-width="0.15">12</text>
<line x1="362.25" y1="838.6" x2="362.25" y2="843.00" stroke="#000" stroke-width="1.2"/>
<text x="362.25" y="852.8" font-size="7.3" text-anchor="middle" fill="#000" stroke="#000" stroke-width="0.15">13</text>
<line x1="378.10" y1="838.6" x2="378.10" y2="843.00" stroke="#000" stroke-width="1.2"/>
<text x="378.10" y="852.8" font-size="7.3" text-anchor="middle" fill="#000" stroke="#000" stroke-width="0.15">14</text>
<line x1="393.10" y1="838.6" x2="393.10" y2="843.00" stroke="#000" stroke-width="1.2"/>
<text x="393.10" y="852.8" font-size="7.3" text-anchor="middle" fill="#000" stroke="#000" stroke-width="0.15">15</text>
<line x1="406.90" y1="838.6" x2="406.90" y2="843.00" stroke="#000" stroke-width="1.2"/>
<text x="406.90" y="852.8" font-size="7.3" text-anchor="middle" fill="#000" stroke="#000" stroke-width="0.15">16</text>
<line x1="419.10" y1="838.6" x2="419.10" y2="843.00" stroke="#000" stroke-width="1.2"/>
<text x="419.10" y="852.8" font-size="7.3" text-anchor="middle" fill="#000" stroke="#000" stroke-width="0.15">17</text>
<line x1="430.90" y1="838.6" x2="430.90" y2="843.00" stroke="#000" stroke-width="1.2"/>
<text x="430.90" y="852.8" font-size="7.3" text-anchor="middle" fill="#000" stroke="#000" stroke-width="0.15">18</text>
<line x1="440.60" y1="838.6" x2="440.60" y2="843.00" stroke="#000" stroke-width="1.2"/>
<text x="440.60" y="861.5" font-size="7.3" text-anchor="middle" fill="#000" stroke="#000" stroke-width="0.15">19</text>
<line x1="450.00" y1="838.6" x2="450.00" y2="843.00" stroke="#000" stroke-width="1.2"/>
<text x="450.00" y="852.8" font-size="7.3" text-anchor="middle" fill="#000" stroke="#000" stroke-width="0.15">20</text>
<line x1="458.70" y1="838.6" x2="458.70" y2="843.00" stroke="#000" stroke-width="1.2"/>
<text x="458.70" y="861.5" font-size="7.3" text-anchor="middle" fill="#000" stroke="#000" stroke-width="0.15">21</text>
<line x1="466.00" y1="838.6" x2="466.00" y2="843.00" stroke="#000" stroke-width="1.2"/>
<text x="466.00" y="852.8" font-size="7.3" text-anchor="middle" fill="#000" stroke="#000" stroke-width="0.15">22</text>
<line x1="481.00" y1="838.6" x2="481.00" y2="843.00" stroke="#000" stroke-width="1.2"/>
<text x="481.00" y="852.8" font-size="7.3" text-anchor="middle" fill="#000" stroke="#000" stroke-width="0.15">X</text>
<line x1="496.20" y1="838.6" x2="496.20" y2="843.00" stroke="#000" stroke-width="1.2"/>
<text x="496.20" y="852.8" font-size="7.3" text-anchor="middle" fill="#000" stroke="#000" stroke-width="0.15">Y</text>
<rect x="232.8" y="875.0" width="7.3" height="7.3" fill="#6cc05c"/>
<text x="245.6" y="881.8" font-size="10" fill="#111">Adult NMZL (n=57)</text>
<rect x="344.4" y="875.0" width="7.3" height="7.3" fill="#1060d8"/>
<text x="357.2" y="881.8" font-size="10" fill="#111">PTFL (n=42)</text>
<rect x="427.8" y="875.0" width="7.3" height="7.3" fill="#8a50d8"/>
<text x="439.6" y="881.8" font-size="10" fill="#111">PNMZL (n=44)</text>
<rect x="0" y="0" width="520" height="1.5" fill="#000"/>
<rect x="0" y="0" width="1.2" height="894" fill="#000"/>
<rect x="518.3" y="0" width="1.7" height="894" fill="#000"/>
<rect x="0" y="892.0" width="520" height="2.0" fill="#000"/>
</svg>
</body></html>
